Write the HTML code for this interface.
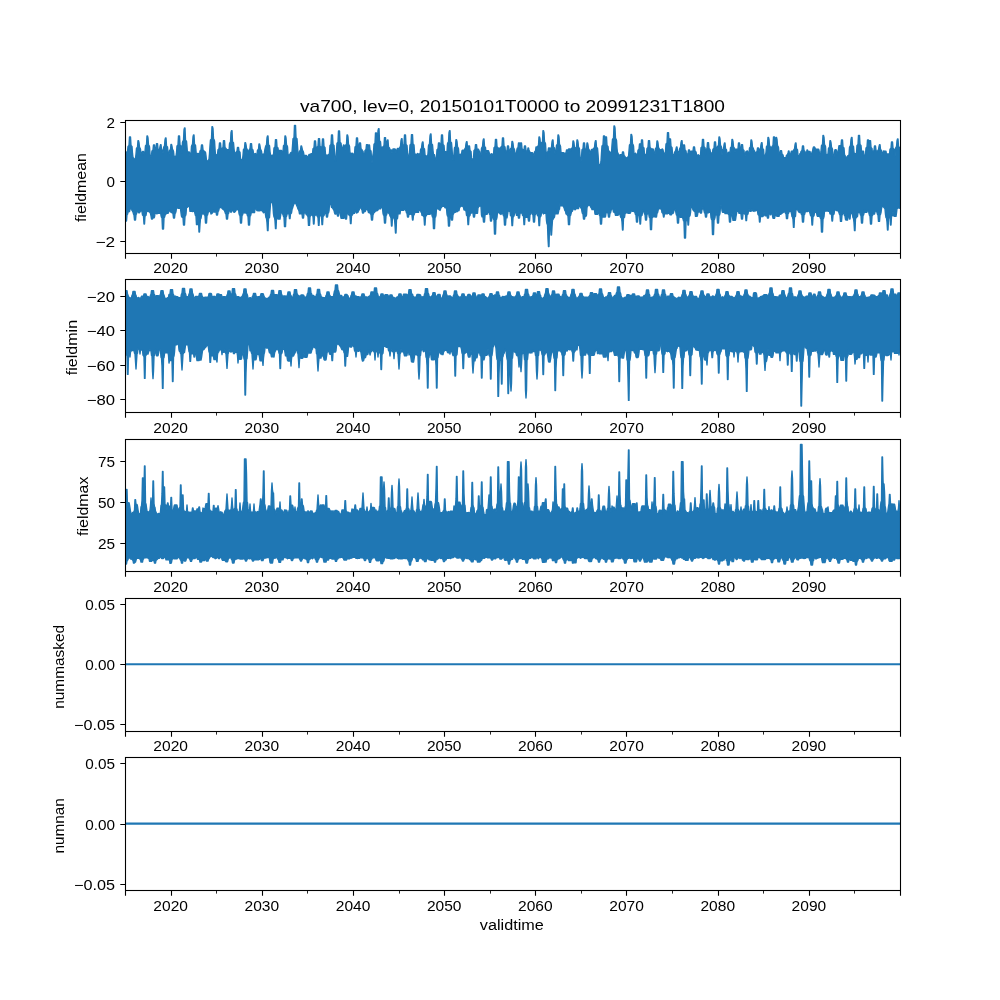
<!DOCTYPE html><html><head><meta charset="utf-8"><title>va700</title>
<style>html,body{margin:0;padding:0;background:#fff}svg{display:block;will-change:transform}text{font-family:"Liberation Sans",sans-serif;fill:#000}</style></head><body>
<svg width="1000" height="1000" viewBox="0 0 1000 1000">
<rect width="1000" height="1000" fill="#fff"/>
<text x="512.50" y="111.60" font-size="16.6" text-anchor="middle" textLength="425.0" lengthAdjust="spacingAndGlyphs">va700, lev=0, 20150101T0000 to 20991231T1800</text>
<clipPath id="c0"><rect x="125.0" y="120.00" width="775.0" height="132.76"/></clipPath>
<path clip-path="url(#c0)" d="M125.0 154.0L125.5 153.4L126.0 153.7L126.5 152.2L127.0 151.6L127.5 151.6L128.0 146.5L128.5 146.0L129.0 145.5L129.5 137.0L130.0 137.0L130.5 137.0L131.0 145.5L131.5 146.0L132.0 146.5L132.5 153.7L133.0 157.5L133.5 158.0L134.0 158.5L134.5 158.9L135.0 159.0L135.5 158.9L136.0 154.1L136.5 148.3L137.0 147.8L137.5 147.3L138.0 140.6L138.5 140.6L139.0 142.6L139.5 147.5L140.0 148.0L140.5 149.3L141.0 154.7L141.5 154.8L142.0 152.4L142.5 151.5L143.0 151.5L143.5 151.5L144.0 154.6L144.5 154.7L145.0 151.6L145.5 145.8L146.0 145.3L146.5 144.8L147.0 136.0L147.5 136.0L148.0 138.0L148.5 145.0L149.0 145.5L149.5 146.8L150.0 154.8L150.5 155.9L151.0 156.6L151.5 154.9L152.0 150.9L152.5 150.4L153.0 149.9L153.5 145.0L154.0 145.0L154.5 145.0L155.0 149.9L155.5 149.6L156.0 149.1L156.5 143.6L157.0 143.6L157.5 143.6L158.0 149.1L158.5 149.6L159.0 150.1L159.5 149.7L160.0 146.6L160.5 144.6L161.0 144.6L161.5 149.5L162.0 150.0L162.5 150.5L163.0 153.6L163.5 147.9L164.0 146.6L164.5 146.1L165.0 140.0L165.5 138.0L166.0 138.0L166.5 145.9L167.0 146.4L167.5 146.9L168.0 152.7L168.5 156.4L169.0 154.8L169.5 150.4L170.0 149.9L170.5 149.4L171.0 144.4L171.5 144.4L172.0 146.4L172.5 149.6L173.0 150.1L173.5 151.4L174.0 156.1L174.5 156.1L175.0 157.8L175.5 157.8L176.0 156.0L176.5 153.2L177.0 145.9L177.5 145.4L178.0 144.9L178.5 136.0L179.0 136.0L179.5 136.0L180.0 144.9L180.5 145.4L181.0 145.9L181.5 153.2L182.0 150.3L182.5 142.3L183.0 141.0L183.5 140.5L184.0 130.0L184.5 128.0L185.0 128.0L185.5 140.3L186.0 140.8L186.5 141.3L187.0 147.1L187.5 153.9L188.0 152.0L188.5 152.0L189.0 152.0L189.5 152.1L190.0 156.0L190.5 156.0L191.0 154.2L191.5 146.2L192.0 145.0L192.5 144.5L193.0 137.0L193.5 135.0L194.0 135.0L194.5 144.3L195.0 144.8L195.5 145.3L196.0 151.0L196.5 156.3L197.0 154.7L197.5 153.4L198.0 153.4L198.5 153.4L199.0 154.6L199.5 155.9L200.0 150.9L200.5 150.4L201.0 149.9L201.5 145.0L202.0 145.0L202.5 145.0L203.0 149.9L203.5 150.4L204.0 150.9L204.5 151.8L205.0 151.8L205.5 152.4L206.0 155.9L206.5 160.8L207.0 161.0L207.5 160.8L208.0 160.5L208.5 160.0L209.0 159.3L209.5 153.7L210.0 145.7L210.5 139.9L211.0 139.4L211.5 138.9L212.0 126.6L212.5 126.6L213.0 128.6L213.5 139.1L214.0 139.6L214.5 140.9L215.0 148.9L215.5 155.0L216.0 154.7L216.5 155.1L217.0 154.4L217.5 154.4L218.0 149.8L218.5 149.3L219.0 148.8L219.5 143.0L220.0 143.0L220.5 143.0L221.0 148.8L221.5 149.3L222.0 148.4L222.5 147.9L223.0 147.4L223.5 140.6L224.0 140.6L224.5 140.6L225.0 147.4L225.5 147.9L226.0 148.4L226.5 149.6L227.0 149.6L227.5 149.6L228.0 149.6L228.5 149.6L229.0 151.8L229.5 143.8L230.0 142.5L230.5 142.0L231.0 132.6L231.5 130.6L232.0 130.6L232.5 141.8L233.0 142.3L233.5 142.8L234.0 148.6L234.5 153.2L235.0 153.2L235.5 153.2L236.0 152.2L236.5 151.7L237.0 151.2L237.5 147.4L238.0 147.4L238.5 147.4L239.0 151.2L239.5 151.7L240.0 152.2L240.5 158.8L241.0 159.3L241.5 159.8L242.0 160.0L242.5 159.9L243.0 155.2L243.5 149.4L244.0 148.9L244.5 148.4L245.0 142.6L245.5 142.6L246.0 144.6L246.5 148.6L247.0 149.1L247.5 150.4L248.0 153.8L248.5 153.9L249.0 150.1L249.5 149.6L250.0 148.5L250.5 143.6L251.0 143.6L251.5 143.6L252.0 149.1L252.5 149.6L253.0 150.1L253.5 153.3L254.0 153.7L254.5 154.0L255.0 153.9L255.5 153.4L256.0 154.7L256.5 154.7L257.0 154.4L257.5 150.2L258.0 149.7L258.5 149.2L259.0 144.0L259.5 144.0L260.0 146.0L260.5 149.4L261.0 149.9L261.5 151.2L262.0 155.7L262.5 154.6L263.0 154.2L263.5 154.1L264.0 154.6L264.5 152.2L265.0 148.9L265.5 146.8L266.0 145.5L266.5 145.0L267.0 138.0L267.5 136.0L268.0 136.0L268.5 144.8L269.0 145.3L269.5 145.8L270.0 151.6L270.5 155.1L271.0 155.1L271.5 155.7L272.0 155.1L272.5 155.1L273.0 156.0L273.5 155.1L274.0 147.9L274.5 147.4L275.0 146.9L275.5 139.6L276.0 139.6L276.5 139.6L277.0 146.9L277.5 147.4L278.0 147.9L278.5 153.9L279.0 150.5L279.5 150.5L280.0 150.5L280.5 150.5L281.0 150.5L281.5 150.5L282.0 152.5L282.5 153.7L283.0 151.6L283.5 145.8L284.0 145.3L284.5 144.8L285.0 136.0L285.5 136.0L286.0 138.0L286.5 145.0L287.0 145.5L287.5 146.8L288.0 154.3L288.5 155.0L289.0 155.0L289.5 155.0L290.0 154.0L290.5 153.1L291.0 152.4L291.5 152.4L292.0 152.4L292.5 146.1L293.0 138.8L293.5 138.3L294.0 137.8L294.5 125.4L295.0 125.4L295.5 125.4L296.0 137.8L296.5 138.3L297.0 138.8L297.5 146.1L298.0 154.1L298.5 155.8L299.0 155.6L299.5 151.3L300.0 150.8L300.5 150.3L301.0 146.0L301.5 146.0L302.0 148.0L302.5 150.5L303.0 151.0L303.5 152.3L304.0 155.4L304.5 155.4L305.0 155.4L305.5 155.4L306.0 155.5L306.5 155.5L307.0 156.7L307.5 156.6L308.0 156.4L308.5 156.2L309.0 154.4L309.5 154.4L310.0 154.4L310.5 154.4L311.0 153.7L311.5 153.7L312.0 153.7L312.5 153.7L313.0 148.7L313.5 148.2L314.0 147.7L314.5 141.0L315.0 141.0L315.5 141.0L316.0 147.7L316.5 148.2L317.0 147.3L317.5 146.8L318.0 146.3L318.5 138.6L319.0 138.6L319.5 138.6L320.0 146.3L320.5 146.8L321.0 147.3L321.5 147.1L322.0 146.6L322.5 139.0L323.0 139.0L323.5 139.0L324.0 146.6L324.5 147.1L325.0 147.6L325.5 154.5L326.0 154.8L326.5 155.4L327.0 155.1L327.5 155.5L328.0 155.0L328.5 154.7L329.0 155.0L329.5 152.6L330.0 145.4L330.5 144.9L331.0 144.4L331.5 135.0L332.0 135.0L332.5 135.0L333.0 144.4L333.5 144.9L334.0 145.4L334.5 152.6L335.0 160.6L335.5 161.0L336.0 158.4L336.5 150.4L337.0 143.2L337.5 142.7L338.0 142.2L338.5 131.0L339.0 131.0L339.5 131.0L340.0 142.2L340.5 142.7L341.0 143.2L341.5 147.7L342.0 147.7L342.5 147.7L343.0 147.0L343.5 145.0L344.0 145.0L344.5 149.8L345.0 150.3L345.5 145.3L346.0 144.8L346.5 144.3L347.0 135.0L347.5 135.0L348.0 137.0L348.5 144.5L349.0 145.0L349.5 146.2L350.0 153.3L350.5 153.3L351.0 153.3L351.5 153.7L352.0 153.4L352.5 153.3L353.0 153.6L353.5 155.4L354.0 155.6L354.5 154.3L355.0 147.0L355.5 146.5L356.0 146.0L356.5 138.0L357.0 138.0L357.5 138.0L358.0 146.0L358.5 146.5L359.0 147.0L359.5 143.0L360.0 143.0L360.5 143.0L361.0 148.8L361.5 149.3L362.0 149.8L362.5 151.2L363.0 151.2L363.5 155.2L364.0 154.6L364.5 155.7L365.0 150.6L365.5 150.1L366.0 149.6L366.5 144.6L367.0 144.6L367.5 144.6L368.0 149.6L368.5 145.0L369.0 145.0L369.5 145.0L370.0 149.9L370.5 150.4L371.0 150.9L371.5 158.1L372.0 163.0L372.5 158.0L373.0 154.5L373.5 151.5L374.0 144.3L374.5 143.8L375.0 143.3L375.5 133.0L376.0 133.0L376.5 133.0L377.0 141.4L377.5 140.9L378.0 130.6L378.5 128.6L379.0 128.6L379.5 140.7L380.0 141.2L380.5 141.7L381.0 147.5L381.5 147.2L382.0 147.2L382.5 147.2L383.0 146.8L383.5 146.3L384.0 145.8L384.5 137.6L385.0 137.6L385.5 137.6L386.0 145.8L386.5 146.3L387.0 142.0L387.5 140.0L388.0 140.0L388.5 147.0L389.0 147.5L389.5 148.0L390.0 149.9L390.5 149.9L391.0 149.9L391.5 149.9L392.0 153.2L392.5 151.6L393.0 149.0L393.5 149.0L394.0 149.0L394.5 149.0L395.0 149.0L395.5 149.6L396.0 153.1L396.5 152.9L397.0 149.5L397.5 148.4L398.0 148.4L398.5 148.4L399.0 148.4L399.5 148.2L400.0 146.9L400.5 146.4L401.0 140.6L401.5 138.6L402.0 138.6L402.5 146.2L403.0 145.4L403.5 144.9L404.0 144.4L404.5 135.0L405.0 135.0L405.5 135.0L406.0 144.4L406.5 144.9L407.0 145.4L407.5 152.6L408.0 157.0L408.5 156.7L409.0 156.5L409.5 152.4L410.0 145.1L410.5 144.6L411.0 144.1L411.5 134.6L412.0 134.6L412.5 134.6L413.0 144.1L413.5 144.6L414.0 145.1L414.5 152.4L415.0 154.0L415.5 155.5L416.0 154.5L416.5 154.3L417.0 155.1L417.5 153.5L418.0 154.0L418.5 154.0L419.0 154.0L419.5 154.0L420.0 156.6L420.5 150.1L421.0 148.8L421.5 148.3L422.0 144.0L422.5 142.0L423.0 142.0L423.5 148.1L424.0 148.6L424.5 149.1L425.0 154.9L425.5 155.9L426.0 155.9L426.5 155.9L427.0 155.9L427.5 157.2L428.0 153.5L428.5 145.7L429.0 144.4L429.5 143.9L430.0 136.0L430.5 134.0L431.0 134.0L431.5 143.7L432.0 144.2L432.5 144.7L433.0 150.5L433.5 154.8L434.0 154.8L434.5 154.8L435.0 157.8L435.5 160.6L436.0 159.9L436.5 157.0L437.0 149.8L437.5 149.3L438.0 148.8L438.5 143.0L439.0 143.0L439.5 143.0L440.0 145.4L440.5 144.9L441.0 144.4L441.5 135.0L442.0 135.0L442.5 135.0L443.0 144.4L443.5 144.9L444.0 145.4L444.5 151.8L445.0 151.8L445.5 151.8L446.0 151.8L446.5 153.6L447.0 151.8L447.5 143.8L448.0 142.5L448.5 142.0L449.0 132.6L449.5 130.6L450.0 130.6L450.5 141.8L451.0 142.3L451.5 142.8L452.0 148.6L452.5 156.6L453.0 160.0L453.5 159.9L454.0 153.5L454.5 147.8L455.0 147.3L455.5 146.8L456.0 139.6L456.5 139.6L457.0 141.6L457.5 147.0L458.0 147.5L458.5 148.7L459.0 155.2L459.5 155.2L460.0 154.5L460.5 154.3L461.0 154.3L461.5 154.3L462.0 150.8L462.5 150.2L463.0 150.2L463.5 150.2L464.0 150.2L464.5 149.8L465.0 148.6L465.5 148.1L466.0 143.6L466.5 141.6L467.0 141.6L467.5 147.9L468.0 148.4L468.5 146.0L469.0 146.0L469.5 146.0L470.0 150.4L470.5 150.9L471.0 151.4L471.5 157.9L472.0 160.0L472.5 159.1L473.0 159.1L473.5 157.9L474.0 150.6L474.5 150.1L475.0 149.6L475.5 144.6L476.0 144.6L476.5 144.6L477.0 149.3L477.5 149.3L478.0 149.3L478.5 149.3L479.0 150.7L479.5 151.2L480.0 154.7L480.5 155.9L481.0 155.2L481.5 148.4L482.0 147.2L482.5 146.7L483.0 141.0L483.5 139.0L484.0 139.0L484.5 146.5L485.0 147.0L485.5 147.5L486.0 153.2L486.5 150.7L487.0 150.7L487.5 150.7L488.0 150.7L488.5 150.7L489.0 152.2L489.5 153.8L490.0 154.8L490.5 154.4L491.0 154.2L491.5 153.8L492.0 154.4L492.5 154.2L493.0 155.2L493.5 155.0L494.0 147.8L494.5 147.3L495.0 146.8L495.5 139.4L496.0 139.4L496.5 139.4L497.0 146.8L497.5 147.3L498.0 147.8L498.5 148.1L499.0 148.1L499.5 148.1L500.0 148.1L500.5 148.1L501.0 147.0L501.5 146.5L502.0 146.0L502.5 138.0L503.0 138.0L503.5 138.0L504.0 146.0L504.5 146.5L505.0 147.0L505.5 152.6L506.0 151.4L506.5 150.9L507.0 150.4L507.5 146.0L508.0 146.0L508.5 146.0L509.0 150.4L509.5 150.9L510.0 151.4L510.5 148.8L511.0 148.3L511.5 147.8L512.0 141.4L512.5 141.4L513.0 143.4L513.5 148.0L514.0 148.5L514.5 149.7L515.0 153.3L515.5 153.3L516.0 153.3L516.5 152.5L517.0 149.0L517.5 147.9L518.0 147.9L518.5 143.0L519.0 143.0L519.5 143.0L520.0 148.8L520.5 143.0L521.0 143.0L521.5 143.0L522.0 148.8L522.5 149.3L523.0 149.8L523.5 150.9L524.0 150.4L524.5 146.0L525.0 146.0L525.5 146.0L526.0 150.4L526.5 150.9L527.0 151.4L527.5 151.4L528.0 148.0L528.5 148.0L529.0 150.0L529.5 151.6L530.0 152.1L530.5 152.8L531.0 152.8L531.5 152.8L532.0 152.8L532.5 152.8L533.0 154.1L533.5 154.4L534.0 156.0L534.5 151.9L535.0 151.4L535.5 150.9L536.0 147.0L536.5 147.0L537.0 149.0L537.5 146.4L538.0 145.9L538.5 145.4L539.0 137.0L539.5 137.0L540.0 139.0L540.5 145.6L541.0 146.1L541.5 142.8L542.0 142.3L542.5 141.8L543.0 130.6L543.5 130.6L544.0 132.6L544.5 142.0L545.0 142.5L545.5 143.8L546.0 151.8L546.5 158.5L547.0 152.5L547.5 152.0L548.0 151.5L548.5 148.0L549.0 148.0L549.5 148.0L550.0 151.5L550.5 149.0L551.0 147.7L551.5 147.2L552.0 142.0L552.5 140.0L553.0 140.0L553.5 147.0L554.0 147.5L554.5 148.0L555.0 153.8L555.5 153.1L556.0 151.0L556.5 145.3L557.0 144.8L557.5 144.3L558.0 135.0L558.5 135.0L559.0 137.0L559.5 144.5L560.0 145.0L560.5 146.2L561.0 152.6L561.5 152.6L562.0 152.6L562.5 152.6L563.0 152.6L563.5 152.6L564.0 153.3L564.5 153.3L565.0 153.3L565.5 153.2L566.0 153.2L566.5 150.0L567.0 150.0L567.5 150.0L568.0 152.7L568.5 149.2L569.0 148.9L569.5 148.9L570.0 148.9L570.5 148.9L571.0 150.5L571.5 148.6L572.0 148.1L572.5 147.6L573.0 141.0L573.5 141.0L574.0 143.0L574.5 147.8L575.0 148.3L575.5 148.0L576.0 147.5L576.5 147.0L577.0 140.0L577.5 140.0L578.0 142.0L578.5 147.2L579.0 147.7L579.5 149.0L580.0 157.0L580.5 161.8L581.0 161.3L581.5 157.0L582.0 149.8L582.5 149.3L583.0 148.8L583.5 143.0L584.0 143.0L584.5 143.0L585.0 148.8L585.5 149.3L586.0 149.2L586.5 148.7L587.0 143.0L587.5 143.0L588.0 145.0L588.5 148.9L589.0 149.4L589.5 150.6L590.0 154.0L590.5 153.9L591.0 151.0L591.5 149.5L592.0 149.5L592.5 149.5L593.0 149.5L593.5 148.4L594.0 148.0L594.5 147.5L595.0 142.6L595.5 140.6L596.0 140.6L596.5 147.3L597.0 147.8L597.5 148.3L598.0 154.1L598.5 162.1L599.0 164.8L599.5 164.8L600.0 164.8L600.5 164.9L601.0 161.2L601.5 153.2L602.0 145.9L602.5 145.4L603.0 144.9L603.5 136.0L604.0 136.0L604.5 136.0L605.0 144.9L605.5 137.0L606.0 137.0L606.5 137.0L607.0 145.5L607.5 146.0L608.0 146.5L608.5 151.3L609.0 151.3L609.5 151.3L610.0 152.1L610.5 153.0L611.0 154.2L611.5 153.1L612.0 145.1L612.5 139.3L613.0 138.8L613.5 138.3L614.0 126.0L614.5 126.0L615.0 128.0L615.5 138.6L616.0 139.1L616.5 140.3L617.0 148.3L617.5 153.0L618.0 153.0L618.5 155.7L619.0 157.7L619.5 155.3L620.0 154.7L620.5 154.7L621.0 154.7L621.5 154.7L622.0 155.4L622.5 152.0L623.0 152.0L623.5 152.0L624.0 155.4L624.5 155.9L625.0 156.4L625.5 157.9L626.0 158.0L626.5 157.9L627.0 157.7L627.5 157.2L628.0 156.8L628.5 156.9L629.0 150.7L629.5 144.9L630.0 144.4L630.5 143.9L631.0 134.4L631.5 134.4L632.0 136.4L632.5 144.1L633.0 144.6L633.5 145.9L634.0 153.9L634.5 154.1L635.0 154.0L635.5 153.2L636.0 153.8L636.5 154.9L637.0 154.7L637.5 155.2L638.0 150.3L638.5 149.8L639.0 149.3L639.5 144.0L640.0 144.0L640.5 144.0L641.0 147.1L641.5 140.0L642.0 140.0L642.5 140.0L643.0 147.1L643.5 147.6L644.0 148.1L644.5 154.5L645.0 154.5L645.5 154.5L646.0 154.6L646.5 154.7L647.0 148.4L647.5 147.9L648.0 147.4L648.5 140.6L649.0 140.6L649.5 140.6L650.0 147.4L650.5 147.9L651.0 148.4L651.5 148.9L652.0 148.9L652.5 148.9L653.0 148.9L653.5 149.7L654.0 152.8L654.5 152.8L655.0 154.3L655.5 148.6L656.0 148.1L656.5 147.6L657.0 141.0L657.5 141.0L658.0 143.0L658.5 147.8L659.0 148.3L659.5 149.5L660.0 150.1L660.5 149.8L661.0 149.8L661.5 149.8L662.0 149.0L662.5 149.0L663.0 149.8L663.5 152.5L664.0 153.1L664.5 154.2L665.0 154.2L665.5 151.3L666.0 144.0L666.5 143.5L667.0 143.0L667.5 132.6L668.0 132.6L668.5 132.6L669.0 143.0L669.5 139.0L670.0 139.0L670.5 139.0L671.0 146.6L671.5 147.1L672.0 147.6L672.5 153.4L673.0 154.8L673.5 155.3L674.0 155.7L674.5 152.8L675.0 151.6L675.5 151.1L676.0 149.0L676.5 147.0L677.0 147.0L677.5 150.9L678.0 151.4L678.5 151.9L679.0 154.6L679.5 149.3L680.0 148.0L680.5 147.5L681.0 142.6L681.5 140.6L682.0 140.6L682.5 147.3L683.0 147.8L683.5 145.0L684.0 145.0L684.5 145.0L685.0 149.9L685.5 150.4L686.0 150.9L686.5 155.1L687.0 154.4L687.5 153.9L688.0 153.4L688.5 150.0L689.0 150.0L689.5 150.0L690.0 153.4L690.5 153.7L691.0 151.1L691.5 151.1L692.0 151.1L692.5 151.1L693.0 151.0L693.5 147.0L694.0 147.0L694.5 147.0L695.0 151.0L695.5 151.5L696.0 152.0L696.5 154.6L697.0 155.0L697.5 155.1L698.0 155.1L698.5 154.8L699.0 155.6L699.5 155.9L700.0 156.5L700.5 155.0L701.0 147.8L701.5 147.3L702.0 146.8L702.5 139.4L703.0 139.4L703.5 139.4L704.0 146.8L704.5 147.3L705.0 147.8L705.5 154.7L706.0 149.5L706.5 149.0L707.0 148.5L707.5 142.6L708.0 142.6L708.5 142.6L709.0 148.5L709.5 149.0L710.0 149.5L710.5 153.0L711.0 153.0L711.5 153.0L712.0 154.0L712.5 152.1L713.0 149.2L713.5 148.7L714.0 148.2L714.5 142.0L715.0 142.0L715.5 142.0L716.0 148.2L716.5 148.7L717.0 149.2L717.5 146.4L718.0 145.9L718.5 145.4L719.0 137.0L719.5 137.0L720.0 139.0L720.5 145.6L721.0 146.1L721.5 147.3L722.0 155.3L722.5 150.6L723.0 149.4L723.5 148.9L724.0 145.0L724.5 143.0L725.0 143.0L725.5 148.7L726.0 149.2L726.5 149.7L727.0 154.4L727.5 154.7L728.0 153.2L728.5 152.2L729.0 152.2L729.5 152.2L730.0 153.4L730.5 147.7L731.0 147.2L731.5 146.7L732.0 139.4L732.5 139.4L733.0 141.4L733.5 146.9L734.0 147.4L734.5 148.6L735.0 152.3L735.5 149.3L736.0 149.3L736.5 149.3L737.0 149.3L737.5 149.3L738.0 148.8L738.5 143.0L739.0 143.0L739.5 143.0L740.0 148.8L740.5 149.3L741.0 149.6L741.5 144.6L742.0 144.6L742.5 144.6L743.0 149.6L743.5 150.1L744.0 150.6L744.5 155.6L745.0 156.2L745.5 153.5L746.0 151.5L746.5 151.5L747.0 151.0L747.5 151.0L748.0 153.0L748.5 154.6L749.0 153.8L749.5 148.0L750.0 147.5L750.5 147.0L751.0 140.0L751.5 140.0L752.0 142.0L752.5 147.2L753.0 147.7L753.5 149.0L754.0 150.6L754.5 150.9L755.0 152.8L755.5 153.9L756.0 152.5L756.5 152.0L757.0 151.5L757.5 148.0L758.0 148.0L758.5 148.0L759.0 151.5L759.5 150.4L760.0 149.1L760.5 148.6L761.0 144.6L761.5 142.6L762.0 142.6L762.5 148.4L763.0 148.9L763.5 149.4L764.0 155.2L764.5 155.2L765.0 155.2L765.5 155.2L766.0 152.3L766.5 146.6L767.0 146.1L767.5 145.6L768.0 137.4L768.5 137.4L769.0 139.4L769.5 145.8L770.0 146.3L770.5 147.5L771.0 148.9L771.5 148.9L772.0 146.5L772.5 146.0L773.0 145.5L773.5 137.0L774.0 137.0L774.5 137.0L775.0 145.5L775.5 145.6L776.0 137.4L776.5 137.4L777.0 139.4L777.5 145.8L778.0 146.3L778.5 147.5L779.0 154.0L779.5 154.0L780.0 154.0L780.5 150.6L781.0 150.6L781.5 150.6L782.0 154.0L782.5 154.5L783.0 155.0L783.5 157.4L784.0 157.9L784.5 157.7L785.0 157.7L785.5 157.7L786.0 157.7L786.5 155.1L787.0 155.1L787.5 154.6L788.0 153.0L788.5 151.0L789.0 151.0L789.5 154.3L790.0 154.7L790.5 155.1L791.0 152.5L791.5 151.1L792.0 151.1L792.5 151.1L793.0 151.1L793.5 150.6L794.0 149.4L794.5 148.9L795.0 145.0L795.5 143.0L796.0 143.0L796.5 148.7L797.0 149.2L797.5 149.7L798.0 155.4L798.5 156.0L799.0 156.0L799.5 155.0L800.0 153.6L800.5 153.9L801.0 151.4L801.5 150.9L802.0 150.4L802.5 146.0L803.0 146.0L803.5 146.0L804.0 150.4L804.5 150.9L805.0 151.4L805.5 153.7L806.0 153.8L806.5 153.3L807.0 150.0L807.5 150.0L808.0 151.5L808.5 151.5L809.0 151.5L809.5 151.5L810.0 151.5L810.5 153.9L811.0 155.7L811.5 155.2L812.0 152.0L812.5 151.5L813.0 148.4L813.5 147.0L814.0 147.0L814.5 147.0L815.0 147.8L815.5 150.4L816.0 149.1L816.5 149.1L817.0 149.1L817.5 149.1L818.0 149.1L818.5 149.1L819.0 150.3L819.5 153.5L820.0 155.8L820.5 155.4L821.0 151.2L821.5 145.5L822.0 145.0L822.5 144.5L823.0 135.4L823.5 135.4L824.0 137.4L824.5 144.7L825.0 145.2L825.5 146.4L826.0 154.4L826.5 154.6L827.0 154.9L827.5 154.2L828.0 154.1L828.5 148.3L829.0 147.8L829.5 147.3L830.0 140.6L830.5 140.6L831.0 142.6L831.5 147.5L832.0 148.0L832.5 149.3L833.0 156.5L833.5 157.3L834.0 156.9L834.5 151.9L835.0 149.6L835.5 149.6L836.0 149.6L836.5 150.4L837.0 153.9L837.5 154.6L838.0 152.3L838.5 148.8L839.0 145.6L839.5 145.6L840.0 145.6L840.5 145.6L841.0 145.6L841.5 140.0L842.0 140.0L842.5 140.0L843.0 147.1L843.5 147.6L844.0 148.1L844.5 155.1L845.0 155.1L845.5 157.9L846.0 157.7L846.5 157.2L847.0 156.8L847.5 156.4L848.0 155.6L848.5 155.3L849.0 155.0L849.5 147.5L850.0 146.3L850.5 145.8L851.0 139.4L851.5 137.4L852.0 137.4L852.5 145.6L853.0 146.1L853.5 146.6L854.0 152.3L854.5 154.4L855.0 153.5L855.5 154.2L856.0 154.1L856.5 152.8L857.0 145.6L857.5 145.1L858.0 144.6L858.5 135.4L859.0 135.4L859.5 135.4L860.0 144.6L860.5 145.1L861.0 145.6L861.5 151.1L862.0 151.1L862.5 151.1L863.0 151.1L863.5 151.1L864.0 155.4L864.5 155.4L865.0 155.2L865.5 154.6L866.0 148.1L866.5 147.6L867.0 147.1L867.5 140.0L868.0 140.0L868.5 140.0L869.0 147.1L869.5 140.6L870.0 140.6L870.5 140.6L871.0 147.4L871.5 147.9L872.0 148.4L872.5 154.6L873.0 151.4L873.5 150.9L874.0 150.4L874.5 146.0L875.0 146.0L875.5 146.0L876.0 150.4L876.5 150.9L877.0 151.4L877.5 151.5L878.0 150.2L878.5 149.7L879.0 146.6L879.5 144.6L880.0 144.6L880.5 149.5L881.0 150.0L881.5 150.5L882.0 154.9L882.5 154.6L883.0 153.0L883.5 151.0L884.0 151.0L884.5 151.3L885.0 151.3L885.5 151.3L886.0 151.3L886.5 154.8L887.0 153.9L887.5 153.9L888.0 153.9L888.5 153.9L889.0 153.9L889.5 154.5L890.0 149.2L890.5 148.7L891.0 148.2L891.5 142.0L892.0 142.0L892.5 142.0L893.0 148.2L893.5 148.7L894.0 149.2L894.5 156.5L895.0 156.4L895.5 148.4L896.0 147.2L896.5 146.7L897.0 141.0L897.5 139.0L898.0 139.0L898.5 146.5L899.0 147.0L899.5 147.5L900.0 149.0L900.0 208.4L899.5 208.2L899.0 207.6L898.5 207.2L898.0 208.3L897.5 208.3L897.0 208.3L896.5 212.9L896.0 216.3L895.5 216.3L895.0 216.3L894.5 216.3L894.0 216.3L893.5 214.9L893.0 211.6L892.5 215.4L892.0 215.9L891.5 216.4L891.0 225.0L890.5 225.0L890.0 217.0L889.5 217.3L889.0 217.8L888.5 218.3L888.0 230.0L887.5 230.0L887.0 222.0L886.5 218.1L886.0 217.6L885.5 214.5L885.0 209.0L884.5 208.0L884.0 207.6L883.5 207.1L883.0 206.5L882.5 206.1L882.0 206.0L881.5 208.5L881.0 212.6L880.5 214.4L880.0 214.9L879.5 221.4L879.0 221.4L878.5 221.4L878.0 214.9L877.5 214.4L877.0 212.6L876.5 211.0L876.0 210.9L875.5 210.9L875.0 212.0L874.5 214.0L874.0 214.0L873.5 214.0L873.0 214.0L872.5 215.4L872.0 215.9L871.5 224.0L871.0 224.0L870.5 224.0L870.0 215.9L869.5 215.4L869.0 213.6L868.5 210.1L868.0 209.9L867.5 210.2L867.0 212.2L866.5 212.2L866.0 212.2L865.5 212.2L865.0 212.2L864.5 209.9L864.0 213.2L863.5 215.0L863.0 215.5L862.5 223.0L862.0 223.0L861.5 223.0L861.0 215.5L860.5 215.0L860.0 213.2L859.5 212.5L859.0 212.5L858.5 212.5L858.0 212.5L857.5 216.5L857.0 216.6L856.5 217.5L856.0 218.0L855.5 218.5L855.0 230.6L854.5 230.6L854.0 222.6L853.5 218.3L853.0 217.8L852.5 214.7L852.0 213.2L851.5 213.1L851.0 213.6L850.5 214.1L850.0 219.0L849.5 219.0L849.0 214.4L848.5 213.9L848.0 216.6L847.5 220.1L847.0 220.1L846.5 220.1L846.0 220.1L845.5 219.4L845.0 215.9L844.5 215.7L844.0 213.2L843.5 213.1L843.0 212.6L842.5 214.4L842.0 214.9L841.5 221.4L841.0 221.4L840.5 221.4L840.0 214.9L839.5 214.4L839.0 212.9L838.5 210.7L838.0 210.8L837.5 210.8L837.0 210.8L836.5 210.3L836.0 210.0L835.5 210.0L835.0 210.0L834.5 211.0L834.0 214.1L833.5 214.6L833.0 215.1L832.5 221.0L832.0 221.0L831.5 214.8L831.0 214.3L830.5 213.9L830.0 213.9L829.5 211.7L829.0 211.3L828.5 211.2L828.0 211.1L827.5 211.0L827.0 211.0L826.5 211.0L826.0 211.0L825.5 211.1L825.0 211.2L824.5 210.9L824.0 216.6L823.5 218.4L823.0 218.9L822.5 232.0L822.0 232.0L821.5 232.0L821.0 218.9L820.5 218.4L820.0 216.6L819.5 216.6L819.0 216.3L818.5 216.3L818.0 216.3L817.5 216.3L817.0 215.5L816.5 212.0L816.0 212.2L815.5 211.7L815.0 212.6L814.5 212.6L814.0 215.7L813.5 216.2L813.0 217.0L812.5 225.0L812.0 225.0L811.5 216.4L811.0 215.9L810.5 215.4L810.0 213.4L809.5 211.8L809.0 211.3L808.5 211.0L808.0 211.0L807.5 211.6L807.0 211.6L806.5 211.6L806.0 211.6L805.5 211.0L805.0 212.8L804.5 214.6L804.0 215.1L803.5 222.0L803.0 222.0L802.5 222.0L802.0 215.1L801.5 214.6L801.0 212.8L800.5 211.9L800.0 212.7L799.5 212.4L799.0 212.1L798.5 211.7L798.0 210.3L797.5 209.9L797.0 209.4L796.5 209.1L796.0 209.3L795.5 216.3L795.0 216.8L794.5 217.3L794.0 227.4L793.5 227.4L793.0 219.4L792.5 217.1L792.0 216.6L791.5 213.5L791.0 211.6L790.5 211.1L790.0 211.3L789.5 211.5L789.0 211.5L788.5 213.3L788.0 213.8L787.5 218.6L787.0 218.6L786.5 218.6L786.0 213.8L785.5 213.3L785.0 211.7L784.5 211.6L784.0 212.0L783.5 212.2L783.0 212.2L782.5 213.1L782.0 211.9L781.5 212.8L781.0 214.4L780.5 214.4L780.0 214.4L779.5 214.4L779.0 216.2L778.5 216.2L778.0 216.2L777.5 216.2L777.0 216.2L776.5 216.0L776.0 211.6L775.5 212.8L775.0 216.3L774.5 218.2L774.0 218.2L773.5 218.2L773.0 218.2L772.5 215.8L772.0 212.9L771.5 213.1L771.0 214.1L770.5 214.7L770.0 213.4L769.5 213.1L769.0 213.6L768.5 218.0L768.0 218.0L767.5 218.0L767.0 215.8L766.5 215.8L766.0 215.8L765.5 215.8L765.0 215.8L764.5 214.6L764.0 212.1L763.5 215.1L763.0 216.5L762.5 216.5L762.0 216.5L761.5 216.5L761.0 216.5L760.5 216.5L760.0 222.0L759.5 222.0L759.0 215.5L758.5 215.0L758.0 214.5L757.5 211.4L757.0 210.0L756.5 210.1L756.0 210.2L755.5 211.0L755.0 210.0L754.5 210.3L754.0 211.4L753.5 209.6L753.0 211.0L752.5 210.4L752.0 209.3L751.5 210.5L751.0 211.4L750.5 211.4L750.0 211.4L749.5 210.6L749.0 209.0L748.5 210.9L748.0 214.0L747.5 214.5L747.0 215.0L746.5 220.6L746.0 220.6L745.5 214.7L745.0 214.2L744.5 213.7L744.0 212.5L743.5 213.5L743.0 214.0L742.5 219.0L742.0 219.0L741.5 219.0L741.0 214.0L740.5 213.5L740.0 213.3L739.5 213.3L739.0 213.3L738.5 211.4L738.0 211.4L737.5 211.4L737.0 211.0L736.5 213.6L736.0 216.4L735.5 219.9L735.0 220.4L734.5 220.4L734.0 220.4L733.5 220.4L733.0 220.4L732.5 217.1L732.0 213.6L731.5 214.6L731.0 215.1L730.5 222.0L730.0 222.0L729.5 222.0L729.0 215.1L728.5 214.6L728.0 212.8L727.5 213.6L727.0 213.6L726.5 213.6L726.0 213.6L725.5 213.6L725.0 213.6L724.5 211.3L724.0 212.2L723.5 212.2L723.0 212.2L722.5 212.2L722.0 210.6L721.5 205.6L721.0 205.6L720.5 206.2L720.0 213.2L719.5 215.0L719.0 215.5L718.5 223.0L718.0 223.0L717.5 223.0L717.0 215.5L716.5 215.0L716.0 213.2L715.5 212.7L715.0 217.6L714.5 219.4L714.0 219.9L713.5 234.6L713.0 234.6L712.5 234.6L712.0 219.9L711.5 219.4L711.0 217.6L710.5 211.2L710.0 211.7L709.5 212.2L709.0 211.7L708.5 212.9L708.0 212.9L707.5 212.9L707.0 213.2L706.5 217.0L706.0 217.0L705.5 217.0L705.0 213.2L704.5 212.7L704.0 210.9L703.5 207.3L703.0 207.2L702.5 209.0L702.0 209.5L701.5 213.0L701.0 213.0L700.5 213.0L700.0 210.8L699.5 211.5L699.0 212.0L698.5 212.0L698.0 212.0L697.5 215.2L697.0 216.4L696.5 216.4L696.0 216.4L695.5 216.4L695.0 211.6L694.5 211.5L694.0 210.3L693.5 210.8L693.0 209.8L692.5 208.4L692.0 206.5L691.5 204.2L691.0 205.6L690.5 212.6L690.0 215.7L689.5 216.2L689.0 217.0L688.5 225.0L688.0 225.0L687.5 216.4L687.0 218.9L686.5 220.7L686.0 221.2L685.5 238.0L685.0 238.0L684.5 238.0L684.0 221.2L683.5 220.7L683.0 218.9L682.5 217.2L682.0 217.2L681.5 217.2L681.0 217.2L680.5 217.2L680.0 217.1L679.5 215.0L679.0 215.5L678.5 223.0L678.0 223.0L677.5 223.0L677.0 215.5L676.5 215.0L676.0 213.2L675.5 210.1L675.0 209.3L674.5 209.6L674.0 210.3L673.5 212.5L673.0 213.4L672.5 213.1L672.0 213.3L671.5 214.9L671.0 214.9L670.5 214.9L670.0 214.9L669.5 213.3L669.0 213.3L668.5 213.3L668.0 213.3L667.5 213.9L667.0 213.9L666.5 213.9L666.0 213.9L665.5 213.9L665.0 213.9L664.5 213.3L664.0 217.0L663.5 217.0L663.0 213.6L662.5 213.1L662.0 212.6L661.5 209.6L661.0 209.1L660.5 208.9L660.0 208.8L659.5 208.7L659.0 208.3L658.5 208.1L658.0 210.9L657.5 212.7L657.0 213.2L656.5 217.0L656.0 217.0L655.5 217.0L655.0 216.9L654.5 216.9L654.0 216.9L653.5 215.6L653.0 215.7L652.5 217.5L652.0 218.0L651.5 229.6L651.0 229.6L650.5 229.6L650.0 218.0L649.5 217.5L649.0 215.7L648.5 211.2L648.0 212.1L647.5 213.9L647.0 214.4L646.5 220.0L646.0 220.0L645.5 220.0L645.0 214.4L644.5 213.9L644.0 212.1L643.5 209.7L643.0 210.5L642.5 212.2L642.0 215.3L641.5 215.8L641.0 216.3L640.5 224.0L640.0 224.0L639.5 216.0L639.0 215.5L638.5 215.0L638.0 215.1L637.5 222.0L637.0 222.0L636.5 222.0L636.0 215.1L635.5 214.6L635.0 212.8L634.5 211.7L634.0 211.6L633.5 211.4L633.0 211.4L632.5 211.4L632.0 211.0L631.5 211.0L631.0 210.9L630.5 212.7L630.0 213.4L629.5 213.4L629.0 213.4L628.5 213.4L628.0 213.3L627.5 211.1L627.0 212.9L626.5 212.9L626.0 212.9L625.5 213.3L625.0 213.8L624.5 217.3L624.0 217.8L623.5 218.3L623.0 230.0L622.5 230.0L622.0 222.0L621.5 218.1L621.0 217.6L620.5 216.6L620.0 214.5L619.5 214.0L619.0 214.0L618.5 214.5L618.0 215.3L617.5 215.3L617.0 215.3L616.5 215.3L616.0 215.3L615.5 215.3L615.0 213.2L614.5 212.0L614.0 212.0L613.5 212.0L613.0 209.3L612.5 209.1L612.0 209.0L611.5 209.1L611.0 210.9L610.5 212.7L610.0 213.2L609.5 217.0L609.0 217.0L608.5 217.0L608.0 213.2L607.5 212.7L607.0 212.4L606.5 212.3L606.0 213.2L605.5 216.7L605.0 217.1L604.5 217.1L604.0 217.1L603.5 217.1L603.0 217.1L602.5 217.1L602.0 215.9L601.5 224.0L601.0 224.0L600.5 224.0L600.0 215.9L599.5 215.4L599.0 213.6L598.5 211.9L598.0 211.1L597.5 214.4L597.0 214.4L596.5 214.4L596.0 214.4L595.5 214.4L595.0 214.2L594.5 209.7L594.0 209.1L593.5 209.5L593.0 209.5L592.5 209.5L592.0 209.5L591.5 207.7L591.0 207.7L590.5 206.3L590.0 205.7L589.5 205.2L589.0 205.0L588.5 205.2L588.0 205.6L587.5 206.4L587.0 207.3L586.5 214.9L586.0 216.3L585.5 216.3L585.0 216.3L584.5 219.0L584.0 219.0L583.5 219.0L583.0 214.0L582.5 213.5L582.0 211.7L581.5 208.3L581.0 208.3L580.5 207.1L580.0 206.5L579.5 206.2L579.0 206.0L578.5 208.6L578.0 208.6L577.5 208.6L577.0 208.6L576.5 208.6L576.0 208.5L575.5 209.5L575.0 209.8L574.5 209.0L574.0 209.0L573.5 208.7L573.0 209.2L572.5 210.9L572.0 211.4L571.5 211.7L571.0 213.8L570.5 215.6L570.0 216.1L569.5 224.6L569.0 224.6L568.5 224.6L568.0 216.1L567.5 215.6L567.0 214.2L566.5 214.2L566.0 213.9L565.5 211.0L565.0 210.9L564.5 209.3L564.0 207.6L563.5 206.7L563.0 205.8L562.5 205.8L562.0 205.8L561.5 205.8L561.0 205.8L560.5 202.2L560.0 202.9L559.5 209.3L559.0 209.3L558.5 211.8L558.0 213.9L557.5 213.9L557.0 213.9L556.5 213.9L556.0 213.9L555.5 209.5L555.0 213.5L554.5 217.0L554.0 217.9L553.5 217.9L553.0 219.5L552.5 220.0L552.0 227.0L551.5 235.0L551.0 235.0L550.5 223.6L550.0 224.1L549.5 224.6L549.0 246.6L548.5 246.6L548.0 238.6L547.5 224.4L547.0 223.9L546.5 220.8L546.0 213.8L545.5 212.9L545.0 213.4L544.5 213.1L544.0 213.2L543.5 214.0L543.0 212.8L542.5 212.8L542.0 212.8L541.5 212.8L541.0 215.9L540.5 216.4L540.0 217.6L539.5 225.6L539.0 225.6L538.5 216.6L538.0 216.1L537.5 215.6L537.0 212.8L536.5 212.5L536.0 212.8L535.5 214.6L535.0 215.1L534.5 222.0L534.0 222.0L533.5 222.0L533.0 215.1L532.5 214.6L532.0 212.8L531.5 210.6L531.0 212.4L530.5 214.2L530.0 214.7L529.5 221.0L529.0 221.0L528.5 221.0L528.0 217.2L527.5 217.2L527.0 217.2L526.5 217.2L526.0 217.2L525.5 217.2L525.0 216.6L524.5 224.6L524.0 224.6L523.5 216.2L523.0 215.7L522.5 215.2L522.0 212.6L521.5 212.6L521.0 213.1L520.5 213.1L520.0 213.6L519.5 218.0L519.0 218.0L518.5 218.0L518.0 215.4L517.5 215.4L517.0 215.4L516.5 215.4L516.0 212.3L515.5 211.4L515.0 210.9L514.5 213.9L514.0 215.9L513.5 216.4L513.0 217.6L512.5 225.6L512.0 225.6L511.5 216.6L511.0 216.1L510.5 215.6L510.0 211.3L509.5 211.2L509.0 211.2L508.5 211.0L508.0 211.4L507.5 214.9L507.0 217.8L506.5 217.8L506.0 217.8L505.5 225.0L505.0 225.0L504.5 225.0L504.0 216.3L503.5 215.8L503.0 214.0L502.5 213.8L502.0 211.7L501.5 213.7L501.0 214.4L500.5 213.9L500.0 213.9L499.5 213.0L499.0 212.9L498.5 212.5L498.0 212.6L497.5 211.9L497.0 217.4L496.5 219.2L496.0 219.7L495.5 234.0L495.0 234.0L494.5 234.0L494.0 219.7L493.5 219.2L493.0 217.4L492.5 214.2L492.0 214.7L491.5 221.0L491.0 221.0L490.5 221.0L490.0 214.7L489.5 214.2L489.0 212.4L488.5 212.0L488.0 212.0L487.5 213.0L487.0 214.4L486.5 214.4L486.0 214.4L485.5 214.6L485.0 215.1L484.5 222.0L484.0 222.0L483.5 222.0L483.0 216.8L482.5 216.8L482.0 216.8L481.5 215.1L481.0 206.5L480.5 206.1L480.0 206.0L479.5 206.1L479.0 206.6L478.5 207.1L478.0 207.8L477.5 213.2L477.0 213.2L476.5 213.2L476.0 213.2L475.5 213.2L475.0 213.2L474.5 217.0L474.0 217.0L473.5 217.0L473.0 213.2L472.5 212.7L472.0 212.6L471.5 213.0L471.0 213.2L470.5 212.4L470.0 215.5L469.5 216.0L469.0 216.6L468.5 224.6L468.0 224.6L467.5 216.2L467.0 215.7L466.5 215.2L466.0 210.7L465.5 210.6L465.0 210.2L464.5 209.9L464.0 209.9L463.5 207.3L463.0 206.6L462.5 206.2L462.0 206.0L461.5 206.1L461.0 206.3L460.5 206.6L460.0 207.1L459.5 207.9L459.0 210.6L458.5 210.6L458.0 210.6L457.5 211.6L457.0 211.4L456.5 211.4L456.0 211.9L455.5 212.2L455.0 211.7L454.5 212.6L454.0 212.1L453.5 213.9L453.0 214.4L452.5 220.0L452.0 220.0L451.5 220.0L451.0 214.4L450.5 216.1L450.0 216.6L449.5 226.0L449.0 226.0L448.5 226.0L448.0 216.6L447.5 216.1L447.0 214.3L446.5 207.9L446.0 207.9L445.5 207.9L445.0 207.9L444.5 206.3L444.0 206.3L443.5 206.3L443.0 206.3L442.5 206.3L442.0 206.3L441.5 207.6L441.0 207.5L440.5 209.2L440.0 210.4L439.5 209.0L439.0 209.6L438.5 208.9L438.0 208.9L437.5 208.9L437.0 208.9L436.5 208.3L436.0 215.3L435.5 217.1L435.0 217.6L434.5 228.6L434.0 228.6L433.5 228.6L433.0 217.6L432.5 217.1L432.0 215.3L431.5 211.3L431.0 211.4L430.5 213.5L430.0 214.4L429.5 214.4L429.0 214.4L428.5 214.4L428.0 214.4L427.5 214.4L427.0 212.1L426.5 215.4L426.0 215.9L425.5 216.4L425.0 225.0L424.5 225.0L424.0 217.0L423.5 216.2L423.0 215.7L422.5 215.3L422.0 215.3L421.5 212.5L421.0 212.1L420.5 210.6L420.0 210.4L419.5 210.2L419.0 210.1L418.5 212.4L418.0 212.4L417.5 212.4L417.0 212.4L416.5 212.4L416.0 212.4L415.5 211.2L415.0 211.6L414.5 213.5L414.0 214.9L413.5 214.9L413.0 220.0L412.5 220.0L412.0 214.9L411.5 214.7L411.0 213.8L410.5 213.1L410.0 214.4L409.5 213.7L409.0 213.9L408.5 217.0L408.0 217.0L407.5 217.0L407.0 213.2L406.5 212.7L406.0 210.9L405.5 210.1L405.0 209.7L404.5 209.1L404.0 209.6L403.5 210.3L403.0 210.3L402.5 210.3L402.0 210.4L401.5 210.4L401.0 210.4L400.5 210.4L400.0 213.8L399.5 213.8L399.0 213.8L398.5 213.8L398.0 213.8L397.5 218.4L397.0 218.9L396.5 219.4L396.0 233.0L395.5 233.0L395.0 225.0L394.5 219.2L394.0 218.7L393.5 215.7L393.0 216.2L392.5 216.7L392.0 226.0L391.5 226.0L391.0 218.0L390.5 216.5L390.0 216.0L389.5 213.7L389.0 213.7L388.5 212.6L388.0 212.6L387.5 212.6L387.0 213.2L386.5 215.0L386.0 215.5L385.5 223.0L385.0 223.0L384.5 223.0L384.0 215.5L383.5 215.0L383.0 213.2L382.5 208.2L382.0 207.7L381.5 207.1L381.0 207.0L380.5 208.8L380.0 208.8L379.5 208.8L379.0 208.8L378.5 209.0L378.0 209.8L377.5 210.5L377.0 210.6L376.5 210.3L376.0 211.1L375.5 210.6L375.0 211.7L374.5 212.2L374.0 212.1L373.5 213.9L373.0 214.4L372.5 220.0L372.0 220.0L371.5 220.0L371.0 214.4L370.5 213.9L370.0 212.7L369.5 212.9L369.0 212.1L368.5 212.5L368.0 210.7L367.5 209.7L367.0 208.8L366.5 208.8L366.0 209.7L365.5 211.0L365.0 211.6L364.5 211.6L364.0 211.6L363.5 213.0L363.0 213.0L362.5 213.0L362.0 210.0L361.5 209.0L361.0 207.2L360.5 207.2L360.0 207.8L359.5 209.0L359.0 210.1L358.5 210.8L358.0 212.2L357.5 212.2L357.0 212.9L356.5 213.0L356.0 211.8L355.5 210.9L355.0 210.2L354.5 213.4L354.0 213.4L353.5 213.4L353.0 213.4L352.5 214.8L352.0 215.3L351.5 215.8L351.0 223.6L350.5 223.6L350.0 216.1L349.5 215.6L349.0 215.1L348.5 214.1L348.0 213.3L347.5 213.5L347.0 214.0L346.5 219.0L346.0 219.0L345.5 219.0L345.0 214.0L344.5 214.6L344.0 218.1L343.5 218.4L343.0 218.4L342.5 218.4L342.0 218.4L341.5 218.4L341.0 218.1L340.5 214.6L340.0 210.2L339.5 212.0L339.0 212.5L338.5 216.0L338.0 216.0L337.5 216.0L337.0 212.5L336.5 213.6L336.0 214.0L335.5 214.0L335.0 214.0L334.5 212.5L334.0 210.1L333.5 209.8L333.0 208.6L332.5 208.0L332.0 207.3L331.5 207.3L331.0 204.9L330.5 204.3L330.0 204.0L329.5 204.2L329.0 210.9L328.5 212.7L328.0 213.2L327.5 217.0L327.0 217.0L326.5 217.0L326.0 213.6L325.5 213.6L325.0 213.6L324.5 213.6L324.0 215.5L323.5 216.0L323.0 216.6L322.5 224.6L322.0 224.6L321.5 216.2L321.0 215.7L320.5 215.5L320.0 216.0L319.5 216.5L319.0 225.4L318.5 225.4L318.0 217.4L317.5 216.8L317.0 215.8L316.5 213.5L316.0 213.5L315.5 215.0L315.0 215.5L314.5 216.0L314.0 224.0L313.5 224.0L313.0 216.3L312.5 215.8L312.0 215.3L311.5 212.2L311.0 214.1L310.5 215.9L310.0 216.4L309.5 225.4L309.0 225.4L308.5 225.4L308.0 216.4L307.5 215.9L307.0 214.1L306.5 214.8L306.0 214.1L305.5 212.3L305.0 211.3L304.5 213.1L304.0 213.6L303.5 218.0L303.0 218.0L302.5 218.0L302.0 213.6L301.5 213.1L301.0 213.8L300.5 213.8L300.0 213.8L299.5 213.8L299.0 211.0L298.5 209.5L298.0 209.0L297.5 207.3L297.0 206.3L296.5 205.0L296.0 203.9L295.5 203.2L295.0 203.0L294.5 203.2L294.0 203.9L293.5 205.1L293.0 206.5L292.5 208.3L292.0 209.6L291.5 212.9L291.0 213.4L290.5 213.9L290.0 218.6L289.5 218.6L289.0 214.2L288.5 213.7L288.0 213.2L287.5 211.5L287.0 214.6L286.5 216.4L286.0 216.9L285.5 226.6L285.0 226.6L284.5 226.6L284.0 216.9L283.5 216.4L283.0 214.6L282.5 213.5L282.0 212.4L281.5 212.8L281.0 212.7L280.5 216.2L280.0 219.1L279.5 219.1L279.0 219.1L278.5 219.1L278.0 219.1L277.5 216.7L277.0 217.4L276.5 217.7L276.0 228.6L275.5 228.6L275.0 220.6L274.5 217.5L274.0 217.0L273.5 213.9L273.0 206.9L272.5 202.2L272.0 202.0L271.5 202.2L271.0 202.7L270.5 203.8L270.0 210.5L269.5 217.5L269.0 218.0L268.5 218.5L268.0 230.6L267.5 230.6L267.0 222.6L266.5 218.3L266.0 217.8L265.5 214.7L265.0 211.5L264.5 211.9L264.0 212.4L263.5 212.8L263.0 211.9L262.5 211.2L262.0 210.6L261.5 210.6L261.0 210.6L260.5 210.6L260.0 210.5L259.5 210.9L259.0 210.9L258.5 210.9L258.0 210.9L257.5 210.6L257.0 210.5L256.5 209.8L256.0 208.4L255.5 208.0L255.0 208.8L254.5 212.6L254.0 212.6L253.5 212.6L253.0 212.6L252.5 212.6L252.0 212.6L251.5 210.1L251.0 214.0L250.5 215.8L250.0 216.3L249.5 225.0L249.0 225.0L248.5 225.0L248.0 216.3L247.5 215.8L247.0 214.0L246.5 213.1L246.0 213.1L245.5 213.1L245.0 211.9L244.5 212.9L244.0 212.6L243.5 212.6L243.0 213.2L242.5 215.0L242.0 215.5L241.5 223.0L241.0 223.0L240.5 223.0L240.0 215.5L239.5 215.0L239.0 213.2L238.5 208.7L238.0 208.7L237.5 209.7L237.0 209.7L236.5 209.7L236.0 210.1L235.5 211.2L235.0 211.7L234.5 212.2L234.0 211.7L233.5 212.0L233.0 210.5L232.5 210.4L232.0 210.6L231.5 211.2L231.0 212.4L230.5 211.0L230.0 210.4L229.5 209.8L229.0 211.7L228.5 213.5L228.0 214.0L227.5 219.0L227.0 219.0L226.5 219.0L226.0 214.0L225.5 213.5L225.0 212.0L224.5 210.7L224.0 210.0L223.5 209.7L223.0 209.3L222.5 208.9L222.0 208.2L221.5 207.8L221.0 207.5L220.5 207.5L220.0 207.5L219.5 207.1L219.0 209.2L218.5 211.0L218.0 211.5L217.5 215.0L217.0 215.0L216.5 215.0L216.0 211.5L215.5 212.1L215.0 212.1L214.5 212.1L214.0 212.1L213.5 211.2L213.0 210.4L212.5 212.7L212.0 213.5L211.5 213.4L211.0 213.9L210.5 212.0L210.0 211.4L209.5 211.0L209.0 211.7L208.5 211.2L208.0 213.2L207.5 215.0L207.0 215.5L206.5 223.0L206.0 223.0L205.5 223.0L205.0 215.5L204.5 215.0L204.0 214.2L203.5 213.7L203.0 213.9L202.5 213.9L202.0 214.1L201.5 215.2L201.0 218.3L200.5 218.8L200.0 224.0L199.5 232.0L199.0 232.0L198.5 219.0L198.0 218.5L197.5 224.6L197.0 224.6L196.5 224.6L196.0 216.1L195.5 215.6L195.0 213.8L194.5 211.1L194.0 211.1L193.5 211.1L193.0 211.5L192.5 211.6L192.0 211.4L191.5 211.4L191.0 211.4L190.5 211.4L190.0 211.4L189.5 207.0L189.0 206.5L188.5 206.1L188.0 206.0L187.5 207.3L187.0 207.3L186.5 207.3L186.0 214.0L185.5 215.8L185.0 216.3L184.5 225.0L184.0 225.0L183.5 225.0L183.0 217.3L182.5 217.3L182.0 217.3L181.5 216.3L181.0 212.8L180.5 208.4L180.0 208.4L179.5 208.4L179.0 208.4L178.5 208.4L178.0 208.4L177.5 207.3L177.0 207.3L176.5 207.3L176.0 211.3L175.5 213.1L175.0 213.6L174.5 218.0L174.0 218.0L173.5 218.0L173.0 213.6L172.5 213.1L172.0 212.0L171.5 212.6L171.0 210.9L170.5 211.9L170.0 210.9L169.5 210.2L169.0 210.6L168.5 212.4L168.0 213.3L167.5 213.3L167.0 213.3L166.5 213.8L166.0 213.8L165.5 213.8L165.0 215.5L164.5 217.3L164.0 217.8L163.5 229.0L163.0 229.0L162.5 229.0L162.0 217.8L161.5 217.3L161.0 215.5L160.5 211.6L160.0 211.8L159.5 213.4L159.0 212.6L158.5 213.2L158.0 213.3L157.5 213.3L157.0 213.9L156.5 213.5L156.0 212.6L155.5 213.3L155.0 213.4L154.5 216.9L154.0 217.9L153.5 217.9L153.0 217.9L152.5 219.0L152.0 219.0L151.5 219.0L151.0 215.9L150.5 213.5L150.0 212.4L149.5 212.2L149.0 211.7L148.5 211.2L148.0 211.2L147.5 211.2L147.0 211.2L146.5 212.2L146.0 215.3L145.5 215.8L145.0 216.3L144.5 224.0L144.0 224.0L143.5 216.0L143.0 215.5L142.5 215.0L142.0 211.6L141.5 210.9L141.0 210.9L140.5 210.9L140.0 211.9L139.5 212.4L139.0 212.9L138.5 212.3L138.0 211.8L137.5 211.1L137.0 212.1L136.5 213.9L136.0 214.4L135.5 220.0L135.0 220.0L134.5 220.0L134.0 215.0L133.5 213.9L133.0 212.1L132.5 211.0L132.0 210.5L131.5 208.1L131.0 208.4L130.5 208.9L130.0 209.2L129.5 211.6L129.0 211.6L128.5 211.6L128.0 212.4L127.5 214.2L127.0 214.7L126.5 221.0L126.0 221.0L125.5 221.0L125.0 214.7Z" fill="#1f77b4" stroke="#1f77b4" stroke-width="1.4" stroke-linejoin="round"/>
<rect x="125.5" y="120.5" width="775.0" height="133.0" fill="none" stroke="#000" stroke-width="1.1"/>
<path d="M125.5 253.5v5.2M171.5 253.5v5.2M262.5 253.5v5.2M353.5 253.5v5.2M444.5 253.5v5.2M535.5 253.5v5.2M626.5 253.5v5.2M718.5 253.5v5.2M809.5 253.5v5.2M900.5 253.5v5.2M125.5 122.5h-5.2M125.5 181.5h-5.2M125.5 241.5h-5.2" stroke="#000" stroke-width="1.1" fill="none"/>
<path d="M216.5 253.5v3.1M307.5 253.5v3.1M399.5 253.5v3.1M490.5 253.5v3.1M581.5 253.5v3.1M672.5 253.5v3.1M763.5 253.5v3.1M854.5 253.5v3.1" stroke="#000" stroke-width="0.85" fill="none"/>
<text x="170.69" y="272.90" font-size="14" text-anchor="middle" textLength="34.6" lengthAdjust="spacingAndGlyphs">2020</text>
<text x="261.86" y="272.90" font-size="14" text-anchor="middle" textLength="34.6" lengthAdjust="spacingAndGlyphs">2030</text>
<text x="353.04" y="272.90" font-size="14" text-anchor="middle" textLength="34.6" lengthAdjust="spacingAndGlyphs">2040</text>
<text x="444.22" y="272.90" font-size="14" text-anchor="middle" textLength="34.6" lengthAdjust="spacingAndGlyphs">2050</text>
<text x="535.39" y="272.90" font-size="14" text-anchor="middle" textLength="34.6" lengthAdjust="spacingAndGlyphs">2060</text>
<text x="626.57" y="272.90" font-size="14" text-anchor="middle" textLength="34.6" lengthAdjust="spacingAndGlyphs">2070</text>
<text x="717.75" y="272.90" font-size="14" text-anchor="middle" textLength="34.6" lengthAdjust="spacingAndGlyphs">2080</text>
<text x="808.92" y="272.90" font-size="14" text-anchor="middle" textLength="34.6" lengthAdjust="spacingAndGlyphs">2090</text>
<text x="115.10" y="127.50" font-size="14" text-anchor="end" textLength="8.5" lengthAdjust="spacingAndGlyphs">2</text>
<text x="115.10" y="186.50" font-size="14" text-anchor="end" textLength="8.5" lengthAdjust="spacingAndGlyphs">0</text>
<text x="115.10" y="246.50" font-size="14" text-anchor="end" textLength="19.7" lengthAdjust="spacingAndGlyphs">−2</text>
<text x="86.00" y="187.60" font-size="14" text-anchor="middle" textLength="68.9" lengthAdjust="spacingAndGlyphs" transform="rotate(-90 86.00 187.60)">fieldmean</text>
<clipPath id="c1"><rect x="125.0" y="279.31" width="775.0" height="132.76"/></clipPath>
<path clip-path="url(#c1)" d="M125.0 290.6L125.5 290.6L126.0 290.6L126.5 290.6L127.0 290.6L127.5 294.4L128.0 294.9L128.5 297.1L129.0 297.6L129.5 297.5L130.0 297.9L130.5 297.9L131.0 298.0L131.5 297.4L132.0 295.3L132.5 294.8L133.0 291.4L133.5 291.4L134.0 291.4L134.5 291.4L135.0 291.4L135.5 294.8L136.0 295.3L136.5 297.4L137.0 297.6L137.5 298.7L138.0 298.3L138.5 297.4L139.0 297.9L139.5 298.2L140.0 298.1L140.5 298.3L141.0 297.9L141.5 296.1L142.0 296.1L142.5 296.1L143.0 296.1L143.5 296.1L144.0 294.0L144.5 294.0L145.0 294.0L145.5 294.0L146.0 294.0L146.5 296.1L147.0 296.6L147.5 296.4L148.0 296.4L148.5 297.0L149.0 297.2L149.5 297.3L150.0 297.2L150.5 295.1L151.0 294.6L151.5 290.6L152.0 290.6L152.5 290.6L153.0 290.6L153.5 290.6L154.0 294.4L154.5 294.7L155.0 296.5L155.5 296.5L156.0 296.0L156.5 295.6L157.0 295.6L157.5 295.6L158.0 295.6L158.5 295.6L159.0 297.2L159.5 296.7L160.0 294.9L160.5 294.4L161.0 290.6L161.5 290.6L162.0 290.6L162.5 290.6L163.0 290.6L163.5 294.4L164.0 294.9L164.5 297.1L165.0 298.4L165.5 298.4L166.0 298.6L166.5 298.4L167.0 298.4L167.5 297.7L168.0 298.0L168.5 297.2L169.0 294.5L169.5 294.4L170.0 293.9L170.5 289.6L171.0 289.6L171.5 289.6L172.0 289.6L172.5 289.6L173.0 294.1L173.5 294.6L174.0 296.1L174.5 296.1L175.0 296.1L175.5 296.1L176.0 296.6L176.5 296.6L177.0 296.6L177.5 296.6L178.0 297.5L178.5 297.5L179.0 297.5L179.5 297.8L180.0 297.8L180.5 298.2L181.0 296.4L181.5 293.9L182.0 293.4L182.5 288.4L183.0 288.4L183.5 288.4L184.0 288.4L184.5 288.4L185.0 293.2L185.5 293.8L186.0 295.5L186.5 296.8L187.0 296.6L187.5 296.7L188.0 297.2L188.5 296.2L189.0 294.1L189.5 293.6L190.0 289.0L190.5 289.0L191.0 289.0L191.5 289.0L192.0 289.0L192.5 293.6L193.0 294.1L193.5 296.2L194.0 298.4L194.5 298.2L195.0 297.7L195.5 296.4L196.0 296.4L196.5 296.4L197.0 296.4L197.5 296.4L198.0 298.0L198.5 296.2L199.0 295.8L199.5 293.4L200.0 293.4L200.5 293.4L201.0 293.4L201.5 293.4L202.0 295.9L202.5 296.4L203.0 297.8L203.5 297.7L204.0 297.6L204.5 297.4L205.0 297.3L205.5 297.1L206.0 297.1L206.5 297.1L207.0 298.2L207.5 298.6L208.0 296.8L208.5 296.3L209.0 293.6L209.5 293.4L210.0 293.4L210.5 293.4L211.0 293.4L211.5 294.0L212.0 296.8L212.5 297.3L213.0 296.5L213.5 296.8L214.0 296.3L214.5 296.4L215.0 297.0L215.5 297.3L216.0 296.6L216.5 296.1L217.0 294.0L217.5 294.0L218.0 294.0L218.5 294.0L219.0 294.0L219.5 295.9L220.0 294.8L220.5 294.8L221.0 294.8L221.5 294.8L222.0 297.0L222.5 298.2L223.0 296.7L223.5 296.7L224.0 296.7L224.5 296.6L225.0 296.7L225.5 296.7L226.0 297.7L226.5 297.2L227.0 295.1L227.5 294.6L228.0 291.0L228.5 291.0L229.0 291.0L229.5 291.0L230.0 291.0L230.5 294.6L231.0 295.1L231.5 294.1L232.0 293.6L232.5 288.6L233.0 288.6L233.5 288.6L234.0 288.6L234.5 288.6L235.0 293.4L235.5 293.9L236.0 295.6L236.5 298.1L237.0 296.9L237.5 296.7L238.0 296.7L238.5 296.7L239.0 296.7L239.5 297.8L240.0 298.1L240.5 297.5L241.0 297.2L241.5 297.3L242.0 296.3L242.5 296.2L243.0 294.1L243.5 293.6L244.0 289.0L244.5 289.0L245.0 289.0L245.5 289.0L246.0 289.0L246.5 293.6L247.0 294.1L247.5 295.4L248.0 298.8L248.5 298.9L249.0 298.2L249.5 298.0L250.0 297.7L250.5 297.8L251.0 298.2L251.5 298.6L252.0 298.0L252.5 296.2L253.0 295.8L253.5 293.4L254.0 293.4L254.5 293.4L255.0 293.4L255.5 293.4L256.0 295.9L256.5 296.4L257.0 298.0L257.5 296.9L258.0 296.8L258.5 296.8L259.0 296.7L259.5 296.7L260.0 296.4L260.5 295.9L261.0 293.6L261.5 293.6L262.0 293.6L262.5 293.6L263.0 293.6L263.5 294.8L264.0 296.4L264.5 297.3L265.0 298.0L265.5 297.9L266.0 298.4L266.5 298.7L267.0 298.6L267.5 298.4L268.0 298.1L268.5 298.0L269.0 297.1L269.5 297.1L270.0 296.4L270.5 294.7L271.0 294.2L271.5 290.4L272.0 290.4L272.5 290.4L273.0 290.4L273.5 290.4L274.0 294.4L274.5 295.0L275.0 294.7L275.5 294.7L276.0 294.7L276.5 294.7L277.0 294.7L277.5 296.6L278.0 294.9L278.5 294.4L279.0 290.6L279.5 290.6L280.0 290.6L280.5 290.6L281.0 290.6L281.5 294.4L282.0 294.9L282.5 297.1L283.0 296.4L283.5 295.9L284.0 295.9L284.5 295.9L285.0 295.9L285.5 296.2L286.0 298.1L286.5 297.5L287.0 295.6L287.5 295.1L288.0 292.0L288.5 292.0L289.0 292.0L289.5 292.0L290.0 292.0L290.5 295.1L291.0 295.6L291.5 296.7L292.0 297.1L292.5 297.1L293.0 297.1L293.5 294.6L294.0 294.1L294.5 289.6L295.0 289.6L295.5 289.6L296.0 289.6L296.5 289.6L297.0 293.8L297.5 294.3L298.0 295.8L298.5 295.8L299.0 295.8L299.5 296.2L300.0 296.2L300.5 296.2L301.0 295.0L301.5 295.0L302.0 295.0L302.5 295.0L303.0 295.0L303.5 295.1L304.0 296.1L304.5 297.4L305.0 297.7L305.5 297.7L306.0 296.8L306.5 296.7L307.0 295.2L307.5 293.5L308.0 293.0L308.5 288.0L309.0 288.0L309.5 288.0L310.0 288.0L310.5 288.0L311.0 293.2L311.5 293.8L312.0 295.4L312.5 295.4L313.0 295.4L313.5 295.4L314.0 296.5L314.5 296.5L315.0 296.5L315.5 297.1L316.0 297.0L316.5 294.5L317.0 293.9L317.5 289.4L318.0 289.4L318.5 289.4L319.0 289.4L319.5 289.4L320.0 293.7L320.5 294.2L321.0 295.9L321.5 297.5L322.0 297.2L322.5 297.8L323.0 297.5L323.5 298.0L324.0 298.2L324.5 297.6L325.0 297.7L325.5 297.6L326.0 295.6L326.5 295.1L327.0 292.0L327.5 292.0L328.0 292.0L328.5 292.0L329.0 292.0L329.5 295.1L330.0 295.6L330.5 296.7L331.0 296.7L331.5 296.7L332.0 296.7L332.5 296.7L333.0 297.2L333.5 296.0L334.0 293.5L334.5 291.0L335.0 290.5L335.5 285.0L336.0 285.0L336.5 285.0L337.0 285.0L337.5 285.0L338.0 290.3L338.5 290.8L339.0 292.5L339.5 295.0L340.0 295.4L340.5 295.4L341.0 295.4L341.5 295.4L342.0 296.3L342.5 297.0L343.0 297.0L343.5 297.0L344.0 296.8L344.5 296.3L345.0 294.4L345.5 294.4L346.0 294.4L346.5 294.4L347.0 294.4L347.5 295.8L348.0 295.8L348.5 297.7L349.0 297.9L349.5 298.5L350.0 298.5L350.5 297.8L351.0 295.6L351.5 295.1L352.0 292.0L352.5 292.0L353.0 292.0L353.5 292.0L354.0 292.0L354.5 295.1L355.0 295.6L355.5 296.3L356.0 296.3L356.5 296.3L357.0 296.7L357.5 296.8L358.0 296.8L358.5 296.8L359.0 296.8L359.5 297.2L360.0 297.5L360.5 297.3L361.0 296.6L361.5 296.1L362.0 294.0L362.5 294.0L363.0 294.0L363.5 294.0L364.0 294.0L364.5 296.1L365.0 296.6L365.5 296.9L366.0 296.9L366.5 296.9L367.0 296.9L367.5 298.2L368.0 298.0L368.5 296.4L369.0 296.4L369.5 296.4L370.0 295.6L370.5 295.1L371.0 292.0L371.5 292.0L372.0 292.0L372.5 292.0L373.0 292.0L373.5 293.8L374.0 293.2L374.5 288.0L375.0 288.0L375.5 288.0L376.0 288.0L376.5 288.0L377.0 293.0L377.5 293.5L378.0 295.2L378.5 297.6L379.0 297.2L379.5 297.1L380.0 296.6L380.5 296.1L381.0 294.0L381.5 294.0L382.0 294.0L382.5 294.0L383.0 294.0L383.5 296.1L384.0 296.2L384.5 297.1L385.0 294.8L385.5 294.8L386.0 294.8L386.5 294.8L387.0 294.8L387.5 294.8L388.0 295.1L388.5 296.7L389.0 296.7L389.5 296.7L390.0 295.0L390.5 295.0L391.0 295.0L391.5 295.0L392.0 295.0L392.5 296.9L393.0 297.3L393.5 297.3L394.0 297.5L394.5 297.8L395.0 298.4L395.5 298.3L396.0 298.1L396.5 297.6L397.0 297.0L397.5 297.6L398.0 296.6L398.5 296.1L399.0 294.0L399.5 294.0L400.0 294.0L400.5 294.0L401.0 294.0L401.5 296.1L402.0 296.6L402.5 297.3L403.0 297.1L403.5 294.1L404.0 294.1L404.5 294.1L405.0 294.1L405.5 294.1L406.0 294.1L406.5 294.1L407.0 296.8L407.5 296.6L408.0 294.4L408.5 293.9L409.0 289.6L409.5 289.6L410.0 289.6L410.5 289.6L411.0 289.6L411.5 293.9L412.0 294.1L412.5 294.1L413.0 296.1L413.5 296.9L414.0 297.3L414.5 297.1L415.0 297.8L415.5 297.7L416.0 296.8L416.5 296.3L417.0 294.4L417.5 294.4L418.0 294.4L418.5 294.4L419.0 294.4L419.5 294.8L420.0 294.8L420.5 295.0L421.0 297.2L421.5 297.2L422.0 296.9L422.5 297.2L423.0 296.7L423.5 297.6L424.0 296.6L424.5 294.1L425.0 293.6L425.5 288.6L426.0 288.6L426.5 288.6L427.0 288.6L427.5 288.6L428.0 293.3L428.5 293.8L429.0 295.5L429.5 297.0L430.0 297.0L430.5 297.0L431.0 297.0L431.5 296.3L432.0 295.9L432.5 295.4L433.0 292.6L433.5 292.6L434.0 292.6L434.5 292.6L435.0 292.6L435.5 295.4L436.0 295.9L436.5 297.5L437.0 297.8L437.5 295.3L438.0 294.4L438.5 294.4L439.0 294.4L439.5 294.4L440.0 294.4L440.5 297.2L441.0 298.3L441.5 298.3L442.0 298.1L442.5 297.2L443.0 295.1L443.5 294.6L444.0 291.0L444.5 291.0L445.0 291.0L445.5 291.0L446.0 291.0L446.5 294.6L447.0 295.1L447.5 296.9L448.0 297.9L448.5 296.0L449.0 296.0L449.5 296.0L450.0 296.0L450.5 296.0L451.0 297.4L451.5 296.9L452.0 297.5L452.5 297.6L453.0 297.8L453.5 295.3L454.0 294.8L454.5 291.0L455.0 291.0L455.5 291.0L456.0 291.0L456.5 291.0L457.0 294.5L457.5 295.0L458.0 296.4L458.5 296.4L459.0 297.3L459.5 297.3L460.0 297.3L460.5 297.3L461.0 296.6L461.5 296.1L462.0 294.0L462.5 294.0L463.0 294.0L463.5 294.0L464.0 294.0L464.5 296.1L465.0 296.6L465.5 296.8L466.0 296.9L466.5 297.3L467.0 297.2L467.5 295.7L468.0 294.4L468.5 294.4L469.0 294.4L469.5 294.4L470.0 294.4L470.5 296.5L471.0 296.6L471.5 296.1L472.0 296.1L472.5 295.6L473.0 293.0L473.5 293.0L474.0 293.0L474.5 293.0L475.0 293.0L475.5 295.6L476.0 296.1L476.5 298.2L477.0 297.3L477.5 297.3L478.0 295.0L478.5 295.0L479.0 295.0L479.5 295.0L480.0 295.0L480.5 295.0L481.0 295.3L481.5 295.9L482.0 294.0L482.5 294.0L483.0 294.0L483.5 294.0L484.0 294.0L484.5 296.1L485.0 296.6L485.5 296.6L486.0 297.0L486.5 297.8L487.0 297.8L487.5 298.1L488.0 298.5L488.5 298.1L489.0 296.4L489.5 295.9L490.0 293.6L490.5 293.6L491.0 293.6L491.5 293.6L492.0 293.6L492.5 295.8L493.0 295.8L493.5 295.8L494.0 295.5L494.5 294.9L495.0 294.9L495.5 294.9L496.0 294.9L496.5 292.0L497.0 292.0L497.5 292.0L498.0 292.0L498.5 292.0L499.0 295.0L499.5 295.5L500.0 297.2L500.5 297.8L501.0 297.8L501.5 297.4L502.0 297.0L502.5 296.5L503.0 296.5L503.5 296.6L504.0 296.6L504.5 296.6L505.0 296.5L505.5 296.2L506.0 296.3L506.5 296.3L507.0 295.6L507.5 295.1L508.0 292.0L508.5 292.0L509.0 292.0L509.5 292.0L510.0 292.0L510.5 295.1L511.0 295.6L511.5 296.8L512.0 296.6L512.5 296.8L513.0 296.9L513.5 297.3L514.0 297.1L514.5 297.0L515.0 297.2L515.5 297.3L516.0 295.6L516.5 295.1L517.0 292.0L517.5 292.0L518.0 292.0L518.5 292.0L519.0 292.0L519.5 295.1L520.0 295.6L520.5 297.5L521.0 297.6L521.5 297.5L522.0 296.9L522.5 296.6L523.0 296.7L523.5 297.3L524.0 297.0L524.5 294.5L525.0 293.9L525.5 289.4L526.0 289.4L526.5 289.4L527.0 289.4L527.5 289.4L528.0 293.7L528.5 294.2L529.0 295.9L529.5 297.8L530.0 297.6L530.5 297.1L531.0 296.7L531.5 297.0L532.0 297.4L532.5 296.0L533.0 295.5L533.5 293.0L534.0 293.0L534.5 293.0L535.0 293.0L535.5 293.0L536.0 295.8L536.5 295.6L537.0 295.1L537.5 291.6L538.0 291.6L538.5 291.6L539.0 291.6L539.5 291.6L540.0 294.8L540.5 295.3L541.0 297.0L541.5 298.3L542.0 298.7L542.5 298.6L543.0 298.0L543.5 298.2L544.0 297.5L544.5 296.1L545.0 293.9L545.5 293.4L546.0 288.6L546.5 288.6L547.0 288.6L547.5 288.6L548.0 288.6L548.5 293.4L549.0 293.9L549.5 296.1L550.0 296.2L550.5 296.2L551.0 296.7L551.5 295.0L552.0 294.5L552.5 291.0L553.0 291.0L553.5 291.0L554.0 291.0L554.5 291.0L555.0 294.3L555.5 294.3L556.0 294.5L556.5 294.3L557.0 294.3L557.5 294.3L558.0 294.3L558.5 294.3L559.0 294.3L559.5 296.3L560.0 296.4L560.5 296.5L561.0 297.7L561.5 297.2L562.0 296.5L562.5 294.8L563.0 294.3L563.5 290.6L564.0 290.6L564.5 290.6L565.0 290.6L565.5 290.6L566.0 294.6L566.5 295.1L567.0 296.5L567.5 296.7L568.0 297.3L568.5 297.5L569.0 297.5L569.5 297.5L570.0 297.8L570.5 296.4L571.0 294.3L571.5 293.8L572.0 289.4L572.5 289.4L573.0 289.4L573.5 289.4L574.0 289.4L574.5 293.8L575.0 294.3L575.5 296.0L576.0 297.5L576.5 298.1L577.0 298.2L577.5 298.4L578.0 297.4L578.5 296.9L579.0 296.3L579.5 295.8L580.0 293.4L580.5 293.4L581.0 293.4L581.5 293.4L582.0 293.4L582.5 295.8L583.0 296.3L583.5 297.0L584.0 297.0L584.5 297.5L585.0 297.3L585.5 297.2L586.0 297.3L586.5 297.2L587.0 297.5L587.5 297.6L588.0 297.2L588.5 296.9L589.0 296.9L589.5 295.8L590.0 295.3L590.5 292.6L591.0 292.6L591.5 292.6L592.0 292.6L592.5 292.6L593.0 295.6L593.5 296.1L594.0 293.6L594.5 293.6L595.0 293.6L595.5 293.6L596.0 293.6L596.5 293.6L597.0 295.2L597.5 295.2L598.0 295.2L598.5 294.3L599.0 293.8L599.5 289.0L600.0 289.0L600.5 289.0L601.0 289.0L601.5 289.0L602.0 293.5L602.5 294.0L603.0 295.7L603.5 297.6L604.0 297.7L604.5 298.1L605.0 297.9L605.5 297.0L606.0 297.0L606.5 297.0L607.0 297.0L607.5 295.8L608.0 295.3L608.5 292.6L609.0 292.6L609.5 292.6L610.0 292.6L610.5 292.6L611.0 295.6L611.5 296.1L612.0 298.0L612.5 297.9L613.0 298.3L613.5 296.6L614.0 296.6L614.5 295.6L615.0 295.3L615.5 295.3L616.0 294.5L616.5 292.8L617.0 292.3L617.5 287.0L618.0 287.0L618.5 287.0L619.0 287.0L619.5 287.0L620.0 292.5L620.5 293.0L621.0 295.5L621.5 297.1L622.0 297.8L622.5 298.3L623.0 298.1L623.5 298.4L624.0 298.2L624.5 297.4L625.0 297.5L625.5 297.5L626.0 297.0L626.5 296.5L627.0 294.6L627.5 294.6L628.0 294.6L628.5 294.6L629.0 294.6L629.5 295.7L630.0 295.5L630.5 295.5L631.0 295.5L631.5 295.5L632.0 295.5L632.5 294.0L633.0 294.0L633.5 294.0L634.0 294.0L634.5 294.0L635.0 296.0L635.5 296.5L636.0 296.4L636.5 296.2L637.0 296.7L637.5 295.9L638.0 295.9L638.5 295.9L639.0 295.9L639.5 296.9L640.0 297.2L640.5 297.2L641.0 297.2L641.5 297.2L642.0 297.2L642.5 297.2L643.0 296.9L643.5 296.4L644.0 295.5L644.5 295.9L645.0 295.5L645.5 294.5L646.0 294.0L646.5 290.0L647.0 290.0L647.5 290.0L648.0 290.0L648.5 290.0L649.0 294.2L649.5 294.8L650.0 296.7L650.5 298.2L651.0 297.9L651.5 297.4L652.0 297.2L652.5 297.2L653.0 297.6L653.5 296.1L654.0 296.1L654.5 294.5L655.0 293.9L655.5 289.4L656.0 289.4L656.5 289.4L657.0 289.4L657.5 289.4L658.0 293.7L658.5 294.2L659.0 295.9L659.5 297.9L660.0 297.2L660.5 297.3L661.0 296.5L661.5 294.8L662.0 294.2L662.5 290.0L663.0 290.0L663.5 290.0L664.0 290.0L664.5 290.0L665.0 294.0L665.5 294.5L666.0 296.2L666.5 297.7L667.0 297.4L667.5 296.2L668.0 296.2L668.5 296.2L669.0 296.2L669.5 296.2L670.0 295.8L670.5 293.6L671.0 293.6L671.5 293.6L672.0 293.6L672.5 293.6L673.0 296.1L673.5 296.6L674.0 297.8L674.5 297.3L675.0 297.8L675.5 298.0L676.0 298.4L676.5 298.9L677.0 298.4L677.5 298.2L678.0 297.8L678.5 297.3L679.0 297.4L679.5 297.4L680.0 297.7L680.5 297.4L681.0 297.5L681.5 296.9L682.0 294.8L682.5 294.3L683.0 290.4L683.5 290.4L684.0 290.4L684.5 290.4L685.0 290.4L685.5 294.3L686.0 294.8L686.5 296.9L687.0 297.3L687.5 297.1L688.0 296.8L688.5 297.5L689.0 295.4L689.5 294.9L690.0 291.6L690.5 291.6L691.0 291.6L691.5 291.6L692.0 291.6L692.5 294.9L693.0 295.4L693.5 297.6L694.0 297.0L694.5 296.5L695.0 296.4L695.5 296.5L696.0 296.5L696.5 296.5L697.0 298.4L697.5 298.3L698.0 298.4L698.5 298.5L699.0 298.6L699.5 297.2L700.0 295.1L700.5 294.6L701.0 291.0L701.5 291.0L702.0 291.0L702.5 291.0L703.0 291.0L703.5 294.6L704.0 295.1L704.5 295.9L705.0 296.9L705.5 297.3L706.0 296.6L706.5 296.1L707.0 294.0L707.5 294.0L708.0 294.0L708.5 294.0L709.0 294.0L709.5 296.1L710.0 296.6L710.5 297.4L711.0 297.2L711.5 296.9L712.0 296.7L712.5 296.0L713.0 296.1L713.5 296.4L714.0 296.3L714.5 297.1L715.0 297.2L715.5 296.4L716.0 294.3L716.5 293.8L717.0 289.4L717.5 289.4L718.0 289.4L718.5 289.4L719.0 289.4L719.5 293.8L720.0 294.3L720.5 296.2L721.0 297.5L721.5 297.3L722.0 297.1L722.5 296.7L723.0 297.1L723.5 297.6L724.0 297.2L724.5 297.1L725.0 295.4L725.5 294.9L726.0 291.6L726.5 291.6L727.0 291.6L727.5 291.6L728.0 291.6L728.5 294.9L729.0 295.4L729.5 296.5L730.0 296.8L730.5 296.4L731.0 296.4L731.5 296.4L732.0 296.4L732.5 297.2L733.0 297.2L733.5 298.9L734.0 298.1L734.5 297.5L735.0 297.4L735.5 297.2L736.0 295.4L736.5 294.9L737.0 291.6L737.5 291.6L738.0 291.6L738.5 291.6L739.0 291.6L739.5 294.9L740.0 295.4L740.5 296.2L741.0 296.2L741.5 296.2L742.0 296.2L742.5 296.6L743.0 297.2L743.5 296.8L744.0 294.6L744.5 294.1L745.0 290.0L745.5 290.0L746.0 290.0L746.5 290.0L747.0 290.0L747.5 294.1L748.0 294.6L748.5 296.3L749.0 296.3L749.5 296.3L750.0 296.3L750.5 297.1L751.0 297.2L751.5 297.9L752.0 297.7L752.5 298.5L753.0 298.2L753.5 293.5L754.0 292.7L754.5 292.7L755.0 292.7L755.5 292.7L756.0 292.7L756.5 293.8L757.0 297.6L757.5 298.6L758.0 298.1L758.5 298.4L759.0 297.7L759.5 297.8L760.0 297.5L760.5 296.6L761.0 296.9L761.5 296.9L762.0 296.0L762.5 296.0L763.0 296.0L763.5 296.0L764.0 294.6L764.5 294.6L765.0 294.6L765.5 294.6L766.0 294.6L766.5 294.6L767.0 294.8L767.5 296.6L768.0 296.2L768.5 295.8L769.0 293.6L769.5 293.1L770.0 288.0L770.5 288.0L771.0 288.0L771.5 288.0L772.0 288.0L772.5 293.1L773.0 293.6L773.5 295.8L774.0 296.7L774.5 296.7L775.0 296.7L775.5 296.7L776.0 296.7L776.5 297.0L777.0 297.0L777.5 297.0L778.0 296.9L778.5 297.4L779.0 296.3L779.5 295.1L780.0 295.1L780.5 295.1L781.0 294.9L781.5 294.4L782.0 290.6L782.5 290.6L783.0 290.6L783.5 290.6L784.0 290.6L784.5 294.4L785.0 294.9L785.5 297.1L786.0 297.4L786.5 297.5L787.0 297.3L787.5 297.7L788.0 295.2L788.5 293.5L789.0 293.0L789.5 288.0L790.0 288.0L790.5 288.0L791.0 288.0L791.5 288.0L792.0 293.2L792.5 293.8L793.0 296.3L793.5 297.3L794.0 297.2L794.5 297.6L795.0 296.6L795.5 297.6L796.0 297.4L796.5 297.1L797.0 297.1L797.5 297.1L798.0 295.1L798.5 294.6L799.0 291.0L799.5 291.0L800.0 291.0L800.5 291.0L801.0 291.0L801.5 294.6L802.0 295.1L802.5 297.1L803.0 296.6L803.5 297.1L804.0 297.1L804.5 297.1L805.0 297.1L805.5 297.1L806.0 296.3L806.5 296.3L807.0 296.3L807.5 296.3L808.0 296.1L808.5 295.6L809.0 293.0L809.5 293.0L810.0 293.0L810.5 293.0L811.0 293.0L811.5 295.6L812.0 296.1L812.5 297.9L813.0 296.3L813.5 294.1L814.0 294.1L814.5 294.1L815.0 294.1L815.5 296.8L816.0 297.1L816.5 297.2L817.0 296.7L817.5 295.8L818.0 295.2L818.5 292.0L819.0 292.0L819.5 292.0L820.0 292.0L820.5 292.0L821.0 295.0L821.5 295.5L822.0 296.7L822.5 296.5L823.0 296.6L823.5 297.3L824.0 297.8L824.5 297.7L825.0 297.4L825.5 297.5L826.0 296.9L826.5 296.4L827.0 294.3L827.5 293.8L828.0 289.4L828.5 289.4L829.0 289.4L829.5 289.4L830.0 289.4L830.5 293.8L831.0 294.3L831.5 296.4L832.0 297.0L832.5 297.3L833.0 297.5L833.5 297.4L834.0 297.4L834.5 296.9L835.0 296.9L835.5 296.9L836.0 295.6L836.5 295.1L837.0 292.0L837.5 292.0L838.0 292.0L838.5 292.0L839.0 292.0L839.5 295.1L840.0 295.6L840.5 297.2L841.0 297.3L841.5 297.3L842.0 297.3L842.5 297.4L843.0 296.1L843.5 295.6L844.0 293.0L844.5 293.0L845.0 293.0L845.5 293.0L846.0 293.0L846.5 295.6L847.0 296.1L847.5 296.6L848.0 296.7L848.5 296.7L849.0 296.7L849.5 296.7L850.0 296.7L850.5 296.7L851.0 297.5L851.5 297.5L852.0 296.5L852.5 296.5L853.0 296.5L853.5 296.5L854.0 294.6L854.5 294.1L855.0 290.0L855.5 290.0L856.0 290.0L856.5 290.0L857.0 290.0L857.5 294.1L858.0 294.6L858.5 296.8L859.0 296.9L859.5 296.7L860.0 297.0L860.5 297.3L861.0 295.6L861.5 295.1L862.0 292.0L862.5 292.0L863.0 292.0L863.5 292.0L864.0 292.0L864.5 295.1L865.0 295.6L865.5 297.8L866.0 297.6L866.5 297.4L867.0 297.4L867.5 297.4L868.0 297.4L868.5 297.1L869.0 297.2L869.5 297.0L870.0 297.1L870.5 296.4L871.0 295.0L871.5 295.0L872.0 295.0L872.5 295.0L873.0 295.0L873.5 295.2L874.0 295.2L874.5 295.2L875.0 295.6L875.5 297.6L876.0 297.5L876.5 296.7L877.0 297.1L877.5 296.4L878.0 296.4L878.5 295.4L879.0 295.4L879.5 293.0L880.0 293.0L880.5 293.0L881.0 293.0L881.5 293.0L882.0 294.9L882.5 294.4L883.0 290.6L883.5 290.6L884.0 290.6L884.5 290.6L885.0 290.6L885.5 294.4L886.0 294.9L886.5 295.0L887.0 295.0L887.5 295.2L888.0 298.0L888.5 297.8L889.0 297.9L889.5 296.2L890.0 294.1L890.5 293.6L891.0 289.0L891.5 289.0L892.0 289.0L892.5 289.0L893.0 289.0L893.5 293.6L894.0 294.1L894.5 294.3L895.0 294.3L895.5 294.3L896.0 294.3L896.5 296.4L897.0 296.1L897.5 295.6L898.0 293.0L898.5 293.0L899.0 293.0L899.5 293.0L900.0 293.0L900.0 351.2L899.5 350.9L899.0 355.0L898.5 350.9L898.0 350.3L897.5 353.4L897.0 353.4L896.5 353.4L896.0 353.4L895.5 353.4L895.0 353.4L894.5 353.4L894.0 351.5L893.5 351.5L893.0 351.5L892.5 351.2L892.0 351.9L891.5 352.9L891.0 360.0L890.5 354.7L890.0 354.7L889.5 354.6L889.0 352.8L888.5 355.1L888.0 355.5L887.5 355.5L887.0 355.5L886.5 355.5L886.0 355.5L885.5 354.9L885.0 353.4L884.5 353.7L884.0 360.0L883.5 360.8L883.0 378.5L882.5 401.0L882.0 401.0L881.5 361.1L881.0 360.3L880.5 356.5L880.0 352.2L879.5 352.7L879.0 352.7L878.5 352.7L878.0 352.7L877.5 352.7L877.0 352.7L876.5 355.4L876.0 357.0L875.5 357.0L875.0 357.0L874.5 357.0L874.0 374.4L873.5 374.4L873.0 355.7L872.5 354.9L872.0 355.0L871.5 355.0L871.0 355.0L870.5 355.0L870.0 355.0L869.5 352.2L869.0 352.4L868.5 354.5L868.0 362.0L867.5 355.4L867.0 355.4L866.5 355.4L866.0 355.4L865.5 355.4L865.0 355.4L864.5 368.4L864.0 368.4L863.5 353.9L863.0 353.2L862.5 350.1L862.0 349.9L861.5 353.7L861.0 353.7L860.5 353.7L860.0 354.4L859.5 357.6L859.0 357.6L858.5 357.6L858.0 357.6L857.5 357.6L857.0 359.2L856.5 359.4L856.0 359.4L855.5 359.4L855.0 364.0L854.5 356.5L854.0 352.8L853.5 352.1L853.0 351.0L852.5 351.5L852.0 353.5L851.5 354.2L851.0 354.2L850.5 354.2L850.0 354.2L849.5 354.2L849.0 351.6L848.5 349.3L848.0 355.6L847.5 356.4L847.0 358.5L846.5 381.0L846.0 381.0L845.5 356.7L845.0 355.9L844.5 353.2L844.0 356.7L843.5 360.2L843.0 360.3L842.5 360.3L842.0 360.3L841.5 360.3L841.0 360.3L840.5 357.3L840.0 353.8L839.5 350.8L839.0 355.9L838.5 356.7L838.0 359.9L837.5 382.4L837.0 382.4L836.5 357.0L836.0 356.2L835.5 352.4L835.0 354.4L834.5 354.4L834.0 354.4L833.5 354.4L833.0 351.0L832.5 351.2L832.0 350.6L831.5 350.9L831.0 351.0L830.5 351.1L830.0 351.9L829.5 357.0L829.0 357.0L828.5 353.0L828.0 353.0L827.5 353.0L827.0 355.0L826.5 355.0L826.0 355.0L825.5 353.9L825.0 350.5L824.5 349.9L824.0 350.8L823.5 351.3L823.0 353.3L822.5 354.6L822.0 354.6L821.5 354.6L821.0 354.3L820.5 352.7L820.0 353.5L819.5 359.5L819.0 367.0L818.5 359.5L818.0 353.5L817.5 352.7L817.0 349.2L816.5 349.6L816.0 350.4L815.5 351.0L815.0 350.0L814.5 351.0L814.0 351.0L813.5 351.2L813.0 351.2L812.5 351.2L812.0 351.2L811.5 351.2L811.0 354.8L810.5 355.5L810.0 356.3L809.5 377.0L809.0 377.0L808.5 355.8L808.0 355.1L807.5 351.2L807.0 348.4L806.5 348.4L806.0 348.4L805.5 346.8L805.0 344.6L804.5 346.4L804.0 347.8L803.5 354.8L803.0 361.1L802.5 361.9L802.0 383.5L801.5 406.0L801.0 406.0L800.5 362.2L800.0 361.4L799.5 357.6L799.0 350.6L798.5 349.8L798.0 351.5L797.5 352.3L797.0 361.0L796.5 361.0L796.0 354.5L795.5 354.5L795.0 354.5L794.5 354.5L794.0 352.1L793.5 353.7L793.0 353.8L792.5 354.6L792.0 371.4L791.5 371.4L791.0 355.0L790.5 354.3L790.0 353.5L789.5 351.2L789.0 352.4L788.5 353.2L788.0 365.0L787.5 365.0L787.0 353.6L786.5 352.9L786.0 352.1L785.5 350.9L785.0 350.9L784.5 350.9L784.0 350.9L783.5 350.9L783.0 350.4L782.5 351.0L782.0 350.5L781.5 351.3L781.0 352.1L780.5 353.1L780.0 360.6L779.5 353.1L779.0 352.1L778.5 352.8L778.0 352.8L777.5 352.8L777.0 352.8L776.5 352.8L776.0 352.8L775.5 351.0L775.0 351.2L774.5 351.4L774.0 351.1L773.5 352.1L773.0 355.6L772.5 357.2L772.0 357.2L771.5 357.2L771.0 357.2L770.5 355.2L770.0 355.2L769.5 355.2L769.0 355.2L768.5 353.4L768.0 348.9L767.5 354.9L767.0 358.4L766.5 361.2L766.0 361.2L765.5 362.9L765.0 370.4L764.5 362.9L764.0 354.6L763.5 353.5L763.0 352.2L762.5 352.2L762.0 352.2L761.5 351.4L761.0 354.1L760.5 354.1L760.0 354.1L759.5 354.1L759.0 351.5L758.5 351.4L758.0 352.2L757.5 353.0L757.0 364.0L756.5 364.0L756.0 353.4L755.5 352.7L755.0 351.9L754.5 347.2L754.0 346.5L753.5 346.0L753.0 345.4L752.5 345.1L752.0 345.0L751.5 349.1L751.0 349.7L750.5 349.7L750.0 349.7L749.5 349.7L749.0 349.7L748.5 354.4L748.0 358.2L747.5 359.0L747.0 391.4L746.5 391.4L746.0 368.9L745.5 358.7L745.0 357.9L744.5 352.3L744.0 352.3L743.5 352.0L743.0 351.6L742.5 351.5L742.0 351.5L741.5 351.5L741.0 351.5L740.5 351.7L740.0 351.7L739.5 351.7L739.0 352.4L738.5 354.5L738.0 362.0L737.5 354.5L737.0 352.4L736.5 351.6L736.0 350.5L735.5 350.5L735.0 351.3L734.5 352.0L734.0 357.0L733.5 352.0L733.0 351.9L732.5 351.9L732.0 351.9L731.5 351.3L731.0 351.3L730.5 350.7L730.0 348.7L729.5 351.8L729.0 355.6L728.5 356.4L728.0 379.6L727.5 379.6L727.0 357.1L726.5 356.1L726.0 355.3L725.5 349.0L725.0 348.9L724.5 348.9L724.0 348.9L723.5 348.9L723.0 348.9L722.5 348.9L722.0 348.1L721.5 348.7L721.0 351.7L720.5 351.7L720.0 354.2L719.5 354.9L719.0 373.0L718.5 373.0L718.0 355.4L717.5 354.6L717.0 353.9L716.5 351.3L716.0 350.4L715.5 350.4L715.0 350.4L714.5 350.4L714.0 350.5L713.5 351.2L713.0 352.0L712.5 357.6L712.0 357.6L711.5 351.5L711.0 350.8L710.5 349.9L710.0 349.7L709.5 350.7L709.0 351.0L708.5 352.3L708.0 353.0L707.5 357.5L707.0 365.0L706.5 360.0L706.0 360.0L705.5 360.0L705.0 360.0L704.5 359.5L704.0 356.0L703.5 353.3L703.0 356.6L702.5 357.4L702.0 384.0L701.5 384.0L701.0 361.5L700.5 357.1L700.0 356.3L699.5 351.1L699.0 350.2L698.5 350.2L698.0 350.2L697.5 350.2L697.0 350.0L696.5 350.0L696.0 350.0L695.5 348.8L695.0 347.7L694.5 347.3L694.0 346.8L693.5 346.2L693.0 345.6L692.5 348.1L692.0 354.5L691.5 355.2L691.0 356.0L690.5 375.6L690.0 375.6L689.5 355.5L689.0 354.8L688.5 350.9L688.0 348.7L687.5 349.3L687.0 349.6L686.5 350.7L686.0 349.6L685.5 350.7L685.0 351.2L684.5 350.9L684.0 357.3L683.5 358.0L683.0 365.9L682.5 388.4L682.0 388.4L681.5 358.3L681.0 357.6L680.5 353.7L680.0 347.0L679.5 346.7L679.0 346.3L678.5 346.1L678.0 346.1L677.5 346.1L677.0 348.3L676.5 348.3L676.0 351.4L675.5 354.9L675.0 357.5L674.5 358.2L674.0 388.0L673.5 388.0L673.0 365.5L672.5 359.6L672.0 359.6L671.5 358.6L671.0 355.1L670.5 352.3L670.0 352.5L669.5 350.9L669.0 351.2L668.5 351.1L668.0 351.3L667.5 351.7L667.0 351.4L666.5 350.9L666.0 349.3L665.5 348.3L665.0 353.7L664.5 354.5L664.0 355.2L663.5 372.4L663.0 372.4L662.5 354.8L662.0 354.0L661.5 350.2L661.0 343.7L660.5 343.7L660.0 343.7L659.5 349.4L659.0 350.8L658.5 350.8L658.0 350.8L657.5 350.8L657.0 349.9L656.5 353.9L656.0 354.7L655.5 365.1L655.0 372.6L654.5 365.1L654.0 354.7L653.5 353.9L653.0 350.3L652.5 350.2L652.0 350.3L651.5 350.4L651.0 350.4L650.5 350.0L650.0 350.3L649.5 351.2L649.0 354.7L648.5 355.8L648.0 355.8L647.5 355.8L647.0 356.5L646.5 378.0L646.0 378.0L645.5 356.0L645.0 355.3L644.5 351.4L644.0 349.9L643.5 349.4L643.0 349.5L642.5 349.5L642.0 349.3L641.5 349.3L641.0 349.3L640.5 349.3L640.0 349.3L639.5 347.1L639.0 352.5L638.5 356.0L638.0 357.6L637.5 357.6L637.0 357.6L636.5 357.6L636.0 356.7L635.5 353.2L635.0 353.0L634.5 352.8L634.0 351.2L633.5 350.0L633.0 350.2L632.5 350.6L632.0 350.0L631.5 350.4L631.0 350.5L630.5 356.3L630.0 360.2L629.5 361.0L629.0 400.4L628.5 400.4L628.0 377.9L627.5 360.7L627.0 359.9L626.5 353.5L626.0 350.2L625.5 350.0L625.0 349.9L624.5 351.4L624.0 354.9L623.5 358.1L623.0 358.1L622.5 358.1L622.0 358.1L621.5 356.0L621.0 355.8L620.5 356.5L620.0 359.1L619.5 381.6L619.0 381.6L618.5 356.8L618.0 356.1L617.5 353.5L617.0 354.3L616.5 355.2L616.0 355.2L615.5 355.2L615.0 355.2L614.5 355.2L614.0 352.9L613.5 350.7L613.0 350.0L612.5 350.1L612.0 351.1L611.5 351.6L611.0 351.6L610.5 351.6L610.0 351.6L609.5 351.6L609.0 352.1L608.5 353.1L608.0 360.6L607.5 354.4L607.0 354.4L606.5 354.4L606.0 357.0L605.5 357.0L605.0 357.0L604.5 357.0L604.0 357.0L603.5 357.0L603.0 355.1L602.5 351.6L602.0 352.9L601.5 353.9L601.0 353.9L600.5 353.9L600.0 353.9L599.5 353.9L599.0 350.8L598.5 348.9L598.0 353.6L597.5 353.6L597.0 349.4L596.5 349.5L596.0 350.2L595.5 350.8L595.0 351.9L594.5 353.9L594.0 355.3L593.5 355.3L593.0 355.3L592.5 355.3L592.0 355.3L591.5 355.3L591.0 354.3L590.5 355.0L590.0 373.4L589.5 373.4L589.0 355.5L588.5 354.7L588.0 354.0L587.5 351.2L587.0 352.7L586.5 352.7L586.0 352.7L585.5 355.0L585.0 355.0L584.5 355.0L584.0 355.0L583.5 355.1L583.0 355.9L582.5 370.5L582.0 378.0L581.5 370.5L581.0 355.9L580.5 355.1L580.0 350.0L579.5 345.1L579.0 345.0L578.5 345.1L578.0 345.5L577.5 346.0L577.0 349.8L576.5 349.8L576.0 349.8L575.5 349.8L575.0 351.2L574.5 352.0L574.0 352.7L573.5 361.0L573.0 361.0L572.5 352.3L572.0 351.5L571.5 348.0L571.0 349.7L570.5 349.2L570.0 350.0L569.5 349.6L569.0 348.4L568.5 349.5L568.0 349.4L567.5 350.1L567.0 351.1L566.5 350.4L566.0 350.8L565.5 351.3L565.0 354.5L564.5 355.2L564.0 356.0L563.5 375.6L563.0 375.6L562.5 355.5L562.0 354.8L561.5 351.4L561.0 351.9L560.5 350.8L560.0 350.8L559.5 350.8L559.0 350.8L558.5 350.8L558.0 350.6L557.5 351.4L557.0 357.8L556.5 358.5L556.0 368.1L555.5 390.6L555.0 390.6L554.5 358.8L554.0 358.1L553.5 354.2L553.0 352.1L552.5 352.1L552.0 352.1L551.5 352.6L551.0 356.1L550.5 359.6L550.0 362.1L549.5 362.1L549.0 362.1L548.5 361.3L548.0 357.8L547.5 354.3L547.0 352.5L546.5 352.5L546.0 352.5L545.5 352.5L545.0 354.2L544.5 355.0L544.0 355.7L543.5 374.6L543.0 374.6L542.5 355.3L542.0 354.5L541.5 351.2L541.0 350.6L540.5 349.5L540.0 349.9L539.5 350.1L539.0 350.2L538.5 355.4L538.0 356.1L537.5 371.5L537.0 379.0L536.5 371.5L536.0 356.1L535.5 355.4L535.0 351.6L534.5 351.6L534.0 351.6L533.5 351.6L533.0 350.8L532.5 349.8L532.0 352.8L531.5 352.8L531.0 352.8L530.5 352.8L530.0 353.0L529.5 352.6L529.0 352.2L528.5 351.2L528.0 354.4L527.5 359.5L527.0 360.3L526.5 390.5L526.0 398.0L525.5 390.5L525.0 360.3L524.5 359.5L524.0 354.4L523.5 350.9L523.0 350.9L522.5 353.7L522.0 354.5L521.5 364.1L521.0 371.6L520.5 364.1L520.0 354.5L519.5 359.5L519.0 367.0L518.5 359.5L518.0 355.7L517.5 355.7L517.0 355.7L516.5 355.0L516.0 353.0L515.5 352.3L515.0 352.4L514.5 351.2L514.0 350.2L513.5 349.7L513.0 352.9L512.5 358.0L512.0 358.7L511.5 383.5L511.0 391.0L510.5 383.5L510.0 360.5L509.5 360.5L509.0 371.1L508.5 393.6L508.0 393.6L507.5 360.5L507.0 358.7L506.5 354.9L506.0 350.0L505.5 350.1L505.0 349.5L504.5 351.9L504.0 353.6L503.5 353.6L503.0 356.6L502.5 357.4L502.0 384.0L501.5 384.0L501.0 361.5L500.5 357.1L500.0 359.0L499.5 359.8L499.0 373.9L498.5 396.4L498.0 396.4L497.5 360.1L497.0 359.3L496.5 355.5L496.0 348.5L495.5 345.4L495.0 344.7L494.5 344.2L494.0 344.0L493.5 346.5L493.0 346.5L492.5 351.6L492.0 355.5L491.5 356.3L491.0 379.0L490.5 379.0L490.0 356.7L489.5 356.0L489.0 355.2L488.5 350.8L488.0 348.6L487.5 354.0L487.0 355.3L486.5 355.3L486.0 355.3L485.5 355.3L485.0 355.3L484.5 357.8L484.0 359.9L483.5 359.9L483.0 359.9L482.5 359.0L482.0 378.0L481.5 378.0L481.0 356.5L480.5 355.7L480.0 355.0L479.5 350.1L479.0 352.7L478.5 352.7L478.0 352.7L477.5 354.9L477.0 357.7L476.5 357.7L476.0 357.7L475.5 357.7L475.0 360.9L474.5 360.9L474.0 360.9L473.5 365.5L473.0 373.0L472.5 365.5L472.0 354.8L471.5 354.0L471.0 350.3L470.5 353.8L470.0 357.0L469.5 357.0L469.0 357.0L468.5 357.0L468.0 355.2L467.5 351.7L467.0 351.5L466.5 352.0L466.0 352.7L465.5 353.0L465.0 352.9L464.5 353.7L464.0 354.4L463.5 368.6L463.0 368.6L462.5 354.0L462.0 353.2L461.5 349.3L461.0 347.4L460.5 346.5L460.0 346.5L459.5 346.5L459.0 346.5L458.5 345.5L458.0 345.9L457.5 348.2L457.0 354.5L456.5 355.3L456.0 356.0L455.5 376.0L455.0 376.0L454.5 355.6L454.0 355.6L453.5 355.6L453.0 355.6L452.5 353.8L452.0 352.1L451.5 351.5L451.0 351.4L450.5 350.3L450.0 354.0L449.5 351.5L449.0 352.7L448.5 352.7L448.0 352.7L447.5 352.2L447.0 350.9L446.5 350.3L446.0 350.3L445.5 350.3L445.0 350.2L444.5 350.9L444.0 350.3L443.5 352.4L443.0 354.6L442.5 354.6L442.0 354.6L441.5 353.9L441.0 353.9L440.5 353.9L440.0 352.0L439.5 351.2L439.0 351.2L438.5 353.6L438.0 357.5L437.5 358.2L437.0 388.0L436.5 388.0L436.0 365.5L435.5 357.9L435.0 357.2L434.5 359.1L434.0 359.9L433.5 359.9L433.0 359.9L432.5 359.9L432.0 359.9L431.5 359.7L431.0 356.2L430.5 352.7L430.0 350.6L429.5 353.6L429.0 357.5L428.5 358.2L428.0 388.0L427.5 388.0L427.0 365.5L426.5 357.9L426.0 357.2L425.5 350.8L425.0 350.0L424.5 350.7L424.0 351.5L423.5 351.7L423.0 350.5L422.5 349.1L422.0 348.6L421.5 349.6L421.0 351.2L420.5 355.4L420.0 356.1L419.5 371.5L419.0 379.0L418.5 371.5L418.0 356.1L417.5 355.4L417.0 354.8L416.5 354.8L416.0 354.8L415.5 353.6L415.0 353.6L414.5 355.8L414.0 359.3L413.5 362.1L413.0 362.1L412.5 362.1L412.0 362.1L411.5 361.6L411.0 358.1L410.5 354.6L410.0 352.6L409.5 351.4L409.0 355.0L408.5 350.9L408.0 351.3L407.5 351.7L407.0 355.2L406.5 355.8L406.0 355.8L405.5 355.8L405.0 355.8L404.5 355.8L404.0 353.9L403.5 351.3L403.0 351.3L402.5 351.9L402.0 351.9L401.5 351.9L401.0 348.6L400.5 353.2L400.0 353.9L399.5 361.5L399.0 369.0L398.5 361.5L398.0 353.9L397.5 353.2L397.0 349.7L396.5 351.0L396.0 350.5L395.5 351.0L395.0 351.6L394.5 352.4L394.0 358.6L393.5 352.4L393.0 351.9L392.5 351.5L392.0 349.6L391.5 350.3L391.0 351.0L390.5 351.8L390.0 356.0L389.5 351.8L389.0 351.0L388.5 350.3L388.0 347.3L387.5 347.3L387.0 347.3L386.5 347.3L386.0 347.3L385.5 346.3L385.0 346.3L384.5 346.3L384.0 345.5L383.5 346.8L383.0 353.1L382.5 353.9L382.0 354.6L381.5 369.6L381.0 369.6L380.5 354.2L380.0 353.4L379.5 350.5L379.0 351.3L378.5 352.0L378.0 357.0L377.5 352.0L377.0 351.3L376.5 351.2L376.0 351.9L375.5 352.7L375.0 360.0L374.5 352.7L374.0 351.9L373.5 351.2L373.0 350.5L372.5 349.5L372.0 350.2L371.5 351.6L371.0 351.5L370.5 353.1L370.0 355.0L369.5 351.8L369.0 350.9L368.5 350.0L368.0 354.0L367.5 354.6L367.0 354.6L366.5 354.6L366.0 355.5L365.5 357.6L365.0 357.6L364.5 357.6L364.0 358.8L363.5 360.7L363.0 361.0L362.5 361.0L362.0 359.3L361.5 355.8L361.0 352.3L360.5 351.5L360.0 350.9L359.5 350.2L359.0 350.4L358.5 351.3L358.0 350.8L357.5 350.7L357.0 351.3L356.5 352.0L356.0 357.0L355.5 352.0L355.0 351.3L354.5 350.5L354.0 347.0L353.5 346.4L353.0 345.9L352.5 345.3L352.0 344.7L351.5 347.0L351.0 347.0L350.5 347.0L350.0 346.9L349.5 345.3L349.0 346.4L348.5 347.4L348.0 353.0L347.5 356.3L347.0 356.3L346.5 356.3L346.0 356.3L345.5 366.0L345.0 366.0L344.5 353.4L344.0 352.6L343.5 349.7L343.0 349.9L342.5 349.9L342.0 349.7L341.5 348.7L341.0 347.4L340.5 346.6L340.0 346.0L339.5 345.4L339.0 344.7L338.5 344.1L338.0 344.0L337.5 344.1L337.0 344.6L336.5 345.3L336.0 350.5L335.5 352.1L335.0 352.1L334.5 352.1L334.0 351.9L333.5 351.9L333.0 352.7L332.5 360.6L332.0 360.6L331.5 354.4L331.0 354.4L330.5 354.4L330.0 354.4L329.5 353.5L329.0 351.2L328.5 351.2L328.0 351.6L327.5 351.8L327.0 352.8L326.5 356.3L326.0 359.8L325.5 360.0L325.0 360.0L324.5 360.0L324.0 359.5L323.5 356.0L323.0 356.6L322.5 354.1L322.0 354.1L321.5 355.2L321.0 358.1L320.5 358.1L320.0 358.1L319.5 358.1L319.0 358.1L318.5 363.5L318.0 371.0L317.5 363.5L317.0 354.3L316.5 353.6L316.0 348.5L315.5 348.1L315.0 347.7L314.5 347.5L314.0 347.1L313.5 346.3L313.0 345.7L312.5 349.1L312.0 349.1L311.5 351.4L311.0 353.0L310.5 353.0L310.0 353.0L309.5 353.0L309.0 353.0L308.5 353.0L308.0 352.0L307.5 354.8L307.0 357.2L306.5 357.2L306.0 357.2L305.5 357.2L305.0 357.2L304.5 357.1L304.0 353.6L303.5 354.3L303.0 357.8L302.5 358.2L302.0 358.2L301.5 358.2L301.0 358.2L300.5 355.0L300.0 353.6L299.5 360.1L299.0 367.6L298.5 360.1L298.0 353.6L297.5 352.8L297.0 350.2L296.5 350.2L296.0 350.2L295.5 351.2L295.0 353.1L294.5 353.6L294.0 354.7L293.5 356.0L293.0 356.0L292.5 356.0L292.0 356.0L291.5 358.5L291.0 366.0L290.5 358.5L290.0 360.8L289.5 361.0L289.0 361.0L288.5 361.0L288.0 361.0L287.5 360.1L287.0 356.6L286.5 355.8L286.0 355.8L285.5 355.8L285.0 352.6L284.5 349.3L284.0 349.4L283.5 349.1L283.0 348.7L282.5 350.1L282.0 352.9L281.5 353.7L281.0 354.4L280.5 368.6L280.0 368.6L279.5 354.0L279.0 353.2L278.5 350.2L278.0 350.0L277.5 348.9L277.0 348.7L276.5 349.4L276.0 349.8L275.5 351.0L275.0 351.5L274.5 353.4L274.0 357.0L273.5 356.8L273.0 356.8L272.5 356.8L272.0 356.8L271.5 356.8L271.0 354.4L270.5 352.9L270.0 352.9L269.5 352.9L269.0 351.0L268.5 348.1L268.0 348.1L267.5 348.1L267.0 348.1L266.5 348.1L266.0 347.5L265.5 347.3L265.0 347.6L264.5 352.4L264.0 354.1L263.5 357.9L263.0 365.4L262.5 360.7L262.0 360.7L261.5 360.7L261.0 360.7L260.5 360.7L260.0 360.7L259.5 357.2L259.0 354.5L258.5 354.5L258.0 354.5L257.5 353.6L257.0 353.7L256.5 357.2L256.0 359.7L255.5 359.7L255.0 359.7L254.5 359.7L254.0 358.2L253.5 361.5L253.0 369.0L252.5 361.5L252.0 353.9L251.5 353.2L251.0 350.7L250.5 350.7L250.0 350.7L249.5 344.5L249.0 344.3L248.5 344.3L248.0 345.3L247.5 352.3L247.0 358.7L246.5 359.5L246.0 372.5L245.5 395.0L245.0 395.0L244.5 359.8L244.0 359.0L243.5 355.1L243.0 352.6L242.5 352.6L242.0 355.5L241.5 359.0L241.0 359.2L240.5 359.2L240.0 359.2L239.5 359.2L239.0 359.0L238.5 357.1L238.0 363.0L237.5 355.5L237.0 352.6L236.5 352.2L236.0 352.2L235.5 352.2L235.0 351.8L234.5 353.5L234.0 353.5L233.5 353.5L233.0 351.8L232.5 351.0L232.0 351.1L231.5 351.5L231.0 352.2L230.5 351.3L230.0 351.3L229.5 350.6L229.0 348.9L228.5 353.0L228.0 353.8L227.5 360.9L227.0 368.4L226.5 360.9L226.0 353.8L225.5 353.0L225.0 349.5L224.5 350.6L224.0 352.4L223.5 352.3L223.0 351.9L222.5 350.9L222.0 354.6L221.5 350.5L221.0 349.8L220.5 349.8L220.0 349.6L219.5 349.7L219.0 351.0L218.5 352.2L218.0 352.4L217.5 354.5L217.0 362.0L216.5 359.5L216.0 359.5L215.5 359.5L215.0 359.5L214.5 359.5L214.0 359.5L213.5 356.8L213.0 355.7L212.5 355.7L212.0 355.7L211.5 355.7L211.0 355.7L210.5 362.4L210.0 362.4L209.5 352.6L209.0 351.8L208.5 348.0L208.0 345.0L207.5 345.1L207.0 345.5L206.5 346.0L206.0 346.7L205.5 347.6L205.0 347.8L204.5 348.3L204.0 349.5L203.5 349.5L203.0 350.0L202.5 350.6L202.0 354.1L201.5 357.6L201.0 360.0L200.5 360.0L200.0 360.0L199.5 360.0L199.0 360.6L198.5 360.6L198.0 360.6L197.5 360.6L197.0 360.6L196.5 357.6L196.0 354.1L195.5 354.0L195.0 351.9L194.5 357.0L194.0 357.0L193.5 352.5L193.0 353.9L192.5 353.9L192.0 353.9L191.5 353.9L191.0 353.9L190.5 361.4L190.0 361.4L189.5 352.4L189.0 351.6L188.5 347.8L188.0 344.8L187.5 344.8L187.0 344.8L186.5 344.8L186.0 344.7L185.5 345.2L185.0 348.9L184.5 352.4L184.0 352.5L183.5 353.4L183.0 354.1L182.5 362.5L182.0 370.0L181.5 362.5L181.0 354.1L180.5 353.4L180.0 351.4L179.5 351.4L179.0 350.0L178.5 344.7L178.0 343.7L177.5 343.2L177.0 344.6L176.5 344.8L176.0 344.8L175.5 344.9L175.0 345.6L174.5 352.2L174.0 356.1L173.5 357.3L173.0 381.6L172.5 381.6L172.0 360.5L171.5 360.5L171.0 360.5L170.5 360.5L170.0 360.5L169.5 360.4L169.0 363.0L168.5 355.5L168.0 352.7L167.5 352.7L167.0 352.7L166.5 352.7L166.0 352.7L165.5 352.7L165.0 351.9L164.5 353.7L164.0 357.6L163.5 358.3L163.0 388.4L162.5 388.4L162.0 365.9L161.5 358.0L161.0 357.3L160.5 350.9L160.0 349.0L159.5 349.3L159.0 350.2L158.5 353.7L158.0 355.7L157.5 355.7L157.0 355.7L156.5 355.7L156.0 352.8L155.5 349.3L155.0 350.1L154.5 355.3L154.0 356.0L153.5 371.1L153.0 378.6L152.5 371.1L152.0 356.0L151.5 355.3L151.0 350.8L150.5 350.8L150.0 349.6L149.5 349.8L149.0 350.9L148.5 352.2L148.0 354.0L147.5 354.0L147.0 354.0L146.5 354.0L146.0 355.4L145.5 356.1L145.0 378.4L144.5 378.4L144.0 356.6L143.5 355.8L143.0 355.1L142.5 350.0L142.0 350.0L141.5 350.0L141.0 350.0L140.5 350.0L140.0 354.0L139.5 349.9L139.0 349.2L138.5 348.4L138.0 348.0L137.5 353.2L137.0 353.9L136.5 361.5L136.0 369.0L135.5 361.5L135.0 353.9L134.5 353.2L134.0 350.6L133.5 350.6L133.0 350.6L132.5 350.6L132.0 350.6L131.5 350.5L131.0 351.3L130.5 352.0L130.0 357.0L129.5 352.0L129.0 354.5L128.5 355.2L128.0 374.4L127.5 374.4L127.0 355.7L126.5 354.9L126.0 354.2L125.5 349.7L125.0 349.0Z" fill="#1f77b4" stroke="#1f77b4" stroke-width="1.4" stroke-linejoin="round"/>
<rect x="125.5" y="279.5" width="775.0" height="133.0" fill="none" stroke="#000" stroke-width="1.1"/>
<path d="M125.5 412.5v5.2M171.5 412.5v5.2M262.5 412.5v5.2M353.5 412.5v5.2M444.5 412.5v5.2M535.5 412.5v5.2M626.5 412.5v5.2M718.5 412.5v5.2M809.5 412.5v5.2M900.5 412.5v5.2M125.5 296.5h-5.2M125.5 330.5h-5.2M125.5 365.5h-5.2M125.5 399.5h-5.2" stroke="#000" stroke-width="1.1" fill="none"/>
<path d="M216.5 412.5v3.1M307.5 412.5v3.1M399.5 412.5v3.1M490.5 412.5v3.1M581.5 412.5v3.1M672.5 412.5v3.1M763.5 412.5v3.1M854.5 412.5v3.1" stroke="#000" stroke-width="0.85" fill="none"/>
<text x="170.69" y="432.90" font-size="14" text-anchor="middle" textLength="34.6" lengthAdjust="spacingAndGlyphs">2020</text>
<text x="261.86" y="432.90" font-size="14" text-anchor="middle" textLength="34.6" lengthAdjust="spacingAndGlyphs">2030</text>
<text x="353.04" y="432.90" font-size="14" text-anchor="middle" textLength="34.6" lengthAdjust="spacingAndGlyphs">2040</text>
<text x="444.22" y="432.90" font-size="14" text-anchor="middle" textLength="34.6" lengthAdjust="spacingAndGlyphs">2050</text>
<text x="535.39" y="432.90" font-size="14" text-anchor="middle" textLength="34.6" lengthAdjust="spacingAndGlyphs">2060</text>
<text x="626.57" y="432.90" font-size="14" text-anchor="middle" textLength="34.6" lengthAdjust="spacingAndGlyphs">2070</text>
<text x="717.75" y="432.90" font-size="14" text-anchor="middle" textLength="34.6" lengthAdjust="spacingAndGlyphs">2080</text>
<text x="808.92" y="432.90" font-size="14" text-anchor="middle" textLength="34.6" lengthAdjust="spacingAndGlyphs">2090</text>
<text x="115.10" y="301.50" font-size="14" text-anchor="end" textLength="28.3" lengthAdjust="spacingAndGlyphs">−20</text>
<text x="115.10" y="335.50" font-size="14" text-anchor="end" textLength="28.3" lengthAdjust="spacingAndGlyphs">−40</text>
<text x="115.10" y="370.50" font-size="14" text-anchor="end" textLength="28.3" lengthAdjust="spacingAndGlyphs">−60</text>
<text x="115.10" y="404.50" font-size="14" text-anchor="end" textLength="28.3" lengthAdjust="spacingAndGlyphs">−80</text>
<text x="77.00" y="347.60" font-size="14" text-anchor="middle" textLength="55.4" lengthAdjust="spacingAndGlyphs" transform="rotate(-90 77.00 347.60)">fieldmin</text>
<clipPath id="c2"><rect x="125.0" y="438.62" width="775.0" height="132.76"/></clipPath>
<path clip-path="url(#c2)" d="M125.0 509.4L125.5 508.6L126.0 507.9L126.5 489.4L127.0 489.4L127.5 506.9L128.0 504.8L128.5 502.6L129.0 502.6L129.5 504.8L130.0 508.0L130.5 511.5L131.0 514.2L131.5 514.2L132.0 513.8L132.5 512.6L133.0 512.3L133.5 512.1L134.0 511.3L134.5 510.3L135.0 499.6L135.5 499.6L136.0 504.5L136.5 504.5L137.0 504.5L137.5 506.3L138.0 509.8L138.5 512.8L139.0 513.9L139.5 513.9L140.0 513.8L140.5 513.2L141.0 506.9L141.5 506.1L142.0 500.5L142.5 478.0L143.0 478.0L143.5 503.5L144.0 488.5L144.5 466.0L145.0 466.0L145.5 503.2L146.0 503.9L146.5 507.8L147.0 511.1L147.5 511.9L148.0 511.7L148.5 512.3L149.0 513.3L149.5 511.1L150.0 510.4L150.5 505.5L151.0 498.0L151.5 505.5L152.0 507.2L152.5 506.5L153.0 481.0L153.5 481.0L154.0 503.5L154.5 506.8L155.0 507.5L155.5 511.4L156.0 511.9L156.5 513.7L157.0 513.7L157.5 514.1L158.0 513.9L158.5 513.5L159.0 513.5L159.5 514.2L160.0 514.6L160.5 511.8L161.0 505.4L161.5 504.7L162.0 493.9L162.5 471.4L163.0 471.4L163.5 504.4L164.0 487.0L164.5 487.0L165.0 505.0L165.5 505.0L166.0 505.0L166.5 506.5L167.0 510.0L167.5 503.0L168.0 503.0L168.5 506.1L169.0 506.1L169.5 506.1L170.0 506.1L170.5 508.5L171.0 497.4L171.5 497.4L172.0 509.6L172.5 510.4L173.0 511.1L173.5 510.0L174.0 506.5L174.5 505.0L175.0 505.0L175.5 505.0L176.0 505.0L176.5 505.0L177.0 505.2L177.5 508.7L178.0 510.3L178.5 510.3L179.0 508.4L179.5 507.7L180.0 506.9L180.5 485.0L181.0 485.0L181.5 507.4L182.0 508.1L182.5 495.0L183.0 495.0L183.5 509.6L184.0 510.3L184.5 513.0L185.0 512.2L185.5 511.6L186.0 511.4L186.5 511.2L187.0 505.0L187.5 511.2L188.0 511.9L188.5 512.3L189.0 512.3L189.5 512.3L190.0 512.8L190.5 512.4L191.0 512.2L191.5 512.8L192.0 512.2L192.5 508.0L193.0 508.0L193.5 511.0L194.0 511.0L194.5 511.0L195.0 511.0L195.5 511.0L196.0 511.4L196.5 511.5L197.0 509.0L197.5 508.9L198.0 508.9L198.5 508.9L199.0 507.0L199.5 507.0L200.0 511.7L200.5 512.5L201.0 513.2L201.5 513.0L202.0 512.8L202.5 512.1L203.0 508.0L203.5 509.0L204.0 508.8L204.5 508.8L205.0 509.3L205.5 506.2L206.0 503.7L206.5 503.7L207.0 503.7L207.5 503.7L208.0 503.7L208.5 493.4L209.0 493.4L209.5 509.2L210.0 510.0L210.5 511.2L211.0 511.2L211.5 511.2L212.0 512.9L212.5 512.1L213.0 511.0L213.5 505.4L214.0 505.4L214.5 511.8L215.0 510.5L215.5 508.3L216.0 508.3L216.5 508.3L217.0 508.3L217.5 508.3L218.0 505.6L218.5 508.3L219.0 511.7L219.5 512.4L220.0 512.9L220.5 511.8L221.0 512.3L221.5 512.3L222.0 512.3L222.5 513.6L223.0 514.3L223.5 514.7L224.0 513.8L224.5 512.4L225.0 510.9L225.5 510.2L226.0 509.5L226.5 501.5L227.0 494.0L227.5 501.5L228.0 509.5L228.5 510.2L229.0 510.5L229.5 510.7L230.0 510.1L230.5 510.7L231.0 510.4L231.5 505.5L232.0 498.0L232.5 505.5L233.0 510.4L233.5 510.4L234.0 509.4L234.5 508.7L235.0 507.9L235.5 489.6L236.0 489.6L236.5 508.4L237.0 509.1L237.5 513.0L238.0 514.4L238.5 512.2L239.0 511.5L239.5 510.5L240.0 503.0L240.5 510.5L241.0 511.3L241.5 511.3L242.0 512.2L242.5 510.4L243.0 505.6L243.5 502.3L244.0 501.6L244.5 459.0L245.0 459.0L245.5 459.0L246.0 459.0L246.5 474.0L247.0 501.9L247.5 502.6L248.0 508.4L248.5 512.4L249.0 511.7L249.5 510.9L250.0 504.0L250.5 510.9L251.0 511.7L251.5 512.4L252.0 513.2L252.5 512.4L253.0 511.7L253.5 510.9L254.0 504.0L254.5 510.9L255.0 511.7L255.5 511.9L256.0 512.7L256.5 512.2L257.0 512.8L257.5 511.6L258.0 512.2L258.5 513.1L259.0 511.5L259.5 508.0L260.0 504.5L260.5 499.0L261.0 499.0L261.5 503.6L262.0 503.6L262.5 503.6L263.0 493.5L263.5 471.0L264.0 471.0L264.5 504.3L265.0 505.0L265.5 508.9L266.0 510.5L266.5 512.2L267.0 511.4L267.5 511.9L268.0 508.4L268.5 505.9L269.0 505.9L269.5 505.9L270.0 506.9L270.5 507.8L271.0 507.1L271.5 490.5L272.0 483.0L272.5 490.5L273.0 493.0L273.5 493.0L274.0 508.7L274.5 509.4L275.0 510.2L275.5 514.7L276.0 512.9L276.5 511.1L277.0 508.2L277.5 508.2L278.0 508.2L278.5 508.2L279.0 510.6L279.5 509.5L280.0 502.0L280.5 509.5L281.0 509.9L281.5 510.0L282.0 510.4L282.5 511.5L283.0 511.8L283.5 512.9L284.0 513.7L284.5 510.0L285.0 510.0L285.5 510.1L286.0 510.1L286.5 510.1L287.0 510.8L287.5 513.7L288.0 513.7L288.5 513.4L289.0 510.5L289.5 509.8L290.0 496.0L290.5 496.0L291.0 505.1L291.5 505.1L292.0 505.1L292.5 505.1L293.0 506.8L293.5 510.3L294.0 512.3L294.5 511.6L295.0 507.0L295.5 511.6L296.0 511.7L296.5 512.8L297.0 512.7L297.5 508.7L298.0 507.4L298.5 506.6L299.0 483.0L299.5 483.0L300.0 506.8L300.5 507.5L301.0 509.7L301.5 499.0L302.0 499.0L302.5 505.3L303.0 505.3L303.5 506.8L304.0 510.3L304.5 513.6L305.0 511.9L305.5 511.9L306.0 511.9L306.5 511.9L307.0 512.9L307.5 512.9L308.0 510.6L308.5 512.1L309.0 511.9L309.5 512.3L310.0 512.6L310.5 510.9L311.0 511.5L311.5 511.1L312.0 510.9L312.5 513.0L313.0 513.1L313.5 513.3L314.0 513.7L314.5 513.9L315.0 512.9L315.5 512.5L316.0 512.6L316.5 510.5L317.0 509.7L317.5 502.5L318.0 495.0L318.5 502.5L319.0 508.3L319.5 506.6L320.0 506.6L320.5 505.0L321.0 505.0L321.5 506.6L322.0 504.9L322.5 504.9L323.0 504.9L323.5 504.9L324.0 504.9L324.5 508.3L325.0 510.4L325.5 509.7L326.0 495.6L326.5 495.6L327.0 508.5L327.5 508.5L328.0 508.5L328.5 508.5L329.0 508.5L329.5 509.1L330.0 511.0L330.5 511.0L331.0 511.0L331.5 511.0L332.0 512.6L332.5 512.6L333.0 510.6L333.5 512.6L334.0 512.6L334.5 512.2L335.0 510.4L335.5 510.4L336.0 510.4L336.5 510.4L337.0 510.4L337.5 511.6L338.0 511.6L338.5 511.4L339.0 512.5L339.5 513.6L340.0 514.1L340.5 514.3L341.0 513.6L341.5 512.5L342.0 509.9L342.5 509.9L343.0 509.9L343.5 509.9L344.0 511.5L344.5 510.8L345.0 500.6L345.5 500.6L346.0 510.3L346.5 511.1L347.0 511.8L347.5 512.7L348.0 512.7L348.5 512.2L349.0 513.1L349.5 512.9L350.0 513.1L350.5 513.6L351.0 513.1L351.5 511.7L352.0 509.0L352.5 509.4L353.0 509.4L353.5 509.4L354.0 509.4L354.5 509.4L355.0 505.0L355.5 505.0L356.0 509.9L356.5 509.9L357.0 509.9L357.5 509.9L358.0 511.2L358.5 512.2L359.0 511.4L359.5 510.8L360.0 508.4L360.5 508.4L361.0 508.4L361.5 508.4L362.0 508.4L362.5 500.5L363.0 493.0L363.5 500.5L364.0 509.3L364.5 510.0L365.0 511.6L365.5 511.6L366.0 511.6L366.5 511.6L367.0 507.0L367.5 511.6L368.0 511.5L368.5 512.7L369.0 512.3L369.5 511.4L370.0 510.3L370.5 509.9L371.0 503.4L371.5 508.4L372.0 507.5L372.5 507.5L373.0 507.5L373.5 507.5L374.0 507.5L374.5 507.8L375.0 511.3L375.5 512.6L376.0 510.0L376.5 512.1L377.0 512.1L377.5 512.1L378.0 511.1L378.5 511.6L379.0 510.9L379.5 506.4L380.0 505.7L380.5 477.0L381.0 477.0L381.5 477.0L382.0 477.0L382.5 505.2L383.0 506.0L383.5 489.5L384.0 482.0L384.5 489.5L385.0 506.8L385.5 507.6L386.0 512.7L386.5 511.8L387.0 511.3L387.5 510.5L388.0 509.8L388.5 498.0L389.0 498.0L389.5 510.2L390.0 511.0L390.5 508.3L391.0 507.6L391.5 492.9L392.0 485.4L392.5 492.9L393.0 507.6L393.5 508.3L394.0 508.5L394.5 508.5L395.0 509.0L395.5 512.6L396.0 512.9L396.5 512.7L397.0 512.1L397.5 506.9L398.0 506.2L398.5 486.5L399.0 479.0L399.5 486.5L400.0 506.2L400.5 506.9L401.0 510.9L401.5 511.0L402.0 514.4L402.5 515.2L403.0 513.9L403.5 512.3L404.0 511.6L404.5 510.6L405.0 511.3L405.5 512.3L406.0 509.0L406.5 508.2L407.0 489.0L407.5 489.0L408.0 507.8L408.5 508.5L409.0 509.3L409.5 513.7L410.0 512.5L410.5 510.9L411.0 510.1L411.5 504.5L412.0 497.0L412.5 504.5L413.0 510.1L413.5 510.9L414.0 511.0L414.5 512.2L415.0 513.1L415.5 514.2L416.0 514.8L416.5 510.0L417.0 509.3L417.5 500.5L418.0 493.0L418.5 500.5L419.0 509.0L419.5 510.0L420.0 512.6L420.5 512.5L421.0 511.5L421.5 511.2L422.0 511.0L422.5 508.2L423.0 504.8L423.5 504.8L424.0 499.4L424.5 504.8L425.0 506.9L425.5 508.0L426.0 506.1L426.5 505.3L427.0 496.9L427.5 474.4L428.0 474.4L428.5 505.0L429.0 501.9L429.5 501.5L430.0 501.5L430.5 501.5L431.0 501.5L431.5 502.2L432.0 505.7L432.5 509.0L433.0 509.0L433.5 509.0L434.0 509.8L434.5 509.2L435.0 504.3L435.5 502.8L436.0 488.9L436.5 466.4L437.0 466.4L437.5 502.8L438.0 502.8L438.5 502.8L439.0 505.5L439.5 509.0L440.0 513.3L440.5 514.2L441.0 512.6L441.5 512.6L442.0 512.6L442.5 513.0L443.0 511.5L443.5 510.7L444.0 510.0L444.5 499.0L445.0 499.0L445.5 510.4L446.0 511.2L446.5 512.7L447.0 512.1L447.5 512.2L448.0 512.0L448.5 511.5L449.0 512.5L449.5 512.5L450.0 511.5L450.5 511.1L451.0 511.1L451.5 511.1L452.0 511.1L452.5 511.6L453.0 511.6L453.5 511.4L454.0 506.0L454.5 511.4L455.0 506.5L455.5 505.8L456.0 498.9L456.5 476.4L457.0 476.4L457.5 502.3L458.0 502.3L458.5 502.3L459.0 502.3L459.5 502.3L460.0 502.3L460.5 505.5L461.0 509.0L461.5 508.9L462.0 505.0L462.5 504.3L463.0 471.0L463.5 471.0L464.0 493.5L464.5 504.6L465.0 505.3L465.5 511.7L466.0 513.3L466.5 513.6L467.0 512.7L467.5 513.1L468.0 512.7L468.5 512.5L469.0 513.7L469.5 512.7L470.0 512.7L470.5 511.4L471.0 507.5L471.5 506.8L472.0 482.4L472.5 482.4L473.0 504.9L473.5 507.1L474.0 507.8L474.5 513.7L475.0 514.3L475.5 514.5L476.0 513.2L476.5 513.0L477.0 510.8L477.5 510.1L478.0 509.3L478.5 496.0L479.0 496.0L479.5 509.0L480.0 507.3L480.5 507.0L481.0 504.5L481.5 482.0L482.0 482.0L482.5 506.7L483.0 507.4L483.5 511.3L484.0 513.4L484.5 514.9L485.0 515.0L485.5 514.4L486.0 514.7L486.5 510.0L487.0 509.4L487.5 509.4L488.0 509.4L488.5 502.5L489.0 495.0L489.5 502.5L490.0 499.5L490.5 477.0L491.0 477.0L491.5 505.6L492.0 506.3L492.5 510.2L493.0 510.7L493.5 510.7L494.0 509.2L494.5 509.2L495.0 509.2L495.5 509.2L496.0 511.9L496.5 508.0L497.0 504.1L497.5 503.4L498.0 467.0L498.5 467.0L499.0 489.5L499.5 503.7L500.0 504.4L500.5 491.5L501.0 484.0L501.5 491.5L502.0 507.3L502.5 508.0L503.0 512.1L503.5 511.2L504.0 511.2L504.5 511.2L505.0 511.2L505.5 511.2L506.0 507.5L506.5 503.0L507.0 502.3L507.5 461.6L508.0 461.6L508.5 461.6L509.0 461.6L509.5 491.6L510.0 502.6L510.5 503.3L511.0 510.3L511.5 513.6L512.0 512.1L512.5 511.8L513.0 508.8L513.5 505.3L514.0 503.3L514.5 503.3L515.0 503.3L515.5 504.4L516.0 507.9L516.5 511.4L517.0 506.6L517.5 505.9L518.0 499.5L518.5 477.0L519.0 477.0L519.5 503.2L520.0 502.4L520.5 469.5L521.0 462.0L521.5 469.5L522.0 502.4L522.5 503.2L523.0 508.3L523.5 509.5L524.0 507.8L524.5 502.7L525.0 501.9L525.5 467.1L526.0 459.6L526.5 467.1L527.0 501.9L527.5 491.5L528.0 484.0L528.5 491.5L529.0 507.3L529.5 508.0L530.0 511.1L530.5 511.1L531.0 511.1L531.5 511.1L532.0 511.1L532.5 512.2L533.0 512.2L533.5 511.8L534.0 511.8L534.5 506.6L535.0 505.9L535.5 485.1L536.0 477.6L536.5 485.1L537.0 505.9L537.5 506.6L538.0 511.8L538.5 511.1L539.0 511.1L539.5 511.1L540.0 511.1L540.5 508.5L541.0 506.2L541.5 506.2L542.0 506.0L542.5 502.6L543.0 502.6L543.5 502.6L544.0 502.6L544.5 502.6L545.0 502.6L545.5 499.0L546.0 499.0L546.5 509.8L547.0 509.8L547.5 509.8L548.0 509.8L548.5 509.8L549.0 510.6L549.5 513.0L550.0 514.0L550.5 513.4L551.0 512.5L551.5 512.0L552.0 511.2L552.5 509.5L553.0 502.0L553.5 507.9L554.0 504.0L554.5 503.3L555.0 466.4L555.5 466.4L556.0 488.9L556.5 503.6L557.0 504.3L557.5 507.0L558.0 507.0L558.5 507.0L559.0 507.0L559.5 508.6L560.0 509.9L560.5 509.9L561.0 509.3L561.5 508.5L562.0 507.8L562.5 489.0L563.0 489.0L563.5 507.1L564.0 484.0L564.5 484.0L565.0 506.5L565.5 507.4L566.0 508.2L566.5 508.3L567.0 508.3L567.5 508.3L568.0 509.9L568.5 511.5L569.0 511.5L569.5 511.5L570.0 515.2L570.5 514.6L571.0 512.5L571.5 511.8L572.0 512.2L572.5 508.0L573.0 508.0L573.5 512.7L574.0 513.4L574.5 513.3L575.0 513.5L575.5 512.4L576.0 512.4L576.5 512.4L577.0 508.0L577.5 508.0L578.0 511.6L578.5 511.3L579.0 512.1L579.5 512.5L580.0 508.7L580.5 503.6L581.0 502.8L581.5 471.1L582.0 463.6L582.5 471.1L583.0 502.8L583.5 503.6L584.0 508.7L584.5 512.5L585.0 512.0L585.5 510.7L586.0 509.7L586.5 509.7L587.0 509.7L587.5 508.5L588.0 507.7L588.5 493.5L589.0 486.0L589.5 493.5L590.0 507.7L590.5 504.8L591.0 504.8L591.5 499.0L592.0 499.0L592.5 505.1L593.0 508.6L593.5 512.1L594.0 512.8L594.5 512.5L595.0 512.4L595.5 512.6L596.0 512.7L596.5 512.5L597.0 510.6L597.5 509.9L598.0 509.1L598.5 495.0L599.0 495.0L599.5 509.6L600.0 510.3L600.5 511.4L601.0 511.8L601.5 511.3L602.0 511.8L602.5 509.2L603.0 506.3L603.5 506.3L604.0 506.3L604.5 506.3L605.0 509.0L605.5 512.1L606.0 512.1L606.5 511.5L607.0 510.7L607.5 508.6L608.0 507.8L608.5 493.9L609.0 486.4L609.5 493.9L610.0 507.8L610.5 508.6L611.0 512.1L611.5 511.4L612.0 506.0L612.5 508.2L613.0 507.1L613.5 507.1L614.0 507.1L614.5 508.5L615.0 510.4L615.5 510.4L616.0 509.1L616.5 503.5L617.0 496.0L617.5 503.5L618.0 505.2L618.5 504.5L619.0 472.0L619.5 472.0L620.0 494.5L620.5 504.8L621.0 505.5L621.5 510.5L622.0 508.0L622.5 508.0L623.0 508.0L623.5 508.0L624.0 509.6L624.5 510.9L625.0 507.0L625.5 506.3L626.0 480.0L626.5 480.0L627.0 500.7L627.5 500.0L628.0 472.5L628.5 450.0L629.0 450.0L629.5 499.7L630.0 500.4L630.5 504.3L631.0 511.3L631.5 509.3L632.0 505.8L632.5 503.8L633.0 503.8L633.5 503.8L634.0 503.8L634.5 503.8L635.0 503.8L635.5 505.0L636.0 508.5L636.5 503.0L637.0 503.0L637.5 511.3L638.0 512.1L638.5 513.7L639.0 511.9L639.5 511.9L640.0 511.9L640.5 511.9L641.0 511.1L641.5 507.6L642.0 506.0L642.5 506.0L643.0 506.0L643.5 506.0L644.0 506.0L644.5 507.0L645.0 505.9L645.5 505.2L646.0 475.0L646.5 475.0L647.0 497.5L647.5 505.5L648.0 506.2L648.5 509.7L649.0 509.7L649.5 509.7L650.0 510.0L650.5 510.0L651.0 510.0L651.5 509.5L652.0 502.0L652.5 507.0L653.0 506.8L653.5 506.0L654.0 500.1L654.5 477.6L655.0 477.6L655.5 505.7L656.0 506.5L656.5 510.4L657.0 514.1L657.5 513.8L658.0 513.6L658.5 513.8L659.0 510.9L659.5 510.1L660.0 510.1L660.5 510.1L661.0 512.5L661.5 514.1L662.0 510.2L662.5 509.4L663.0 494.4L663.5 494.4L664.0 509.0L664.5 509.7L665.0 510.1L665.5 510.1L666.0 512.0L666.5 511.4L667.0 511.6L667.5 508.0L668.0 507.3L668.5 504.2L669.0 504.2L669.5 504.2L670.0 504.2L670.5 504.2L671.0 506.1L671.5 509.0L672.0 505.1L672.5 504.4L673.0 471.4L673.5 471.4L674.0 493.9L674.5 504.7L675.0 505.4L675.5 511.6L676.0 512.5L676.5 512.5L677.0 511.8L677.5 510.9L678.0 511.1L678.5 511.8L679.0 512.5L679.5 511.9L680.0 507.5L680.5 503.0L681.0 502.3L681.5 461.6L682.0 461.6L682.5 461.6L683.0 461.6L683.5 491.6L684.0 499.0L684.5 499.0L685.0 510.0L685.5 510.7L686.0 511.5L686.5 512.5L687.0 512.6L687.5 512.6L688.0 513.0L688.5 513.0L689.0 512.4L689.5 511.6L690.0 510.9L690.5 503.0L691.0 503.0L691.5 511.3L692.0 511.8L692.5 512.0L693.0 511.9L693.5 511.0L694.0 510.3L694.5 505.1L695.0 497.6L695.5 505.1L696.0 510.3L696.5 508.8L697.0 507.8L697.5 507.8L698.0 507.8L698.5 508.7L699.0 511.4L699.5 510.6L700.0 504.2L700.5 503.5L701.0 488.5L701.5 466.0L702.0 466.0L702.5 503.2L703.0 503.9L703.5 500.0L704.0 500.0L704.5 510.7L705.0 510.4L705.5 509.6L706.0 508.9L706.5 494.0L707.0 494.0L707.5 509.3L708.0 510.1L708.5 509.4L709.0 508.7L709.5 497.9L710.0 490.4L710.5 497.9L711.0 507.1L711.5 507.1L712.0 506.7L712.5 506.7L713.0 503.0L713.5 503.0L714.0 506.7L714.5 507.3L715.0 512.4L715.5 513.6L716.0 514.5L716.5 513.8L717.0 513.3L717.5 508.1L718.0 507.4L718.5 491.9L719.0 484.4L719.5 491.9L720.0 507.4L720.5 508.1L721.0 509.9L721.5 509.9L722.0 509.9L722.5 509.9L723.0 509.9L723.5 510.2L724.0 510.4L724.5 510.4L725.0 504.0L725.5 508.2L726.0 504.4L726.5 503.6L727.0 468.0L727.5 468.0L728.0 490.5L728.5 503.9L729.0 504.7L729.5 510.1L730.0 510.1L730.5 510.1L731.0 504.6L731.5 511.1L732.0 511.8L732.5 512.0L733.0 511.3L733.5 512.1L734.0 512.6L734.5 513.1L735.0 514.6L735.5 509.8L736.0 509.0L736.5 499.5L737.0 492.0L737.5 499.5L738.0 509.0L738.5 509.8L739.0 511.4L739.5 511.4L740.0 511.4L740.5 511.4L741.0 507.0L741.5 511.2L742.0 511.2L742.5 511.2L743.0 511.2L743.5 509.1L744.0 509.1L744.5 509.1L745.0 509.0L745.5 505.6L746.0 505.6L746.5 484.5L747.0 477.0L747.5 484.5L748.0 505.6L748.5 506.5L749.0 511.5L749.5 512.6L750.0 511.8L750.5 511.1L751.0 504.6L751.5 511.1L752.0 511.4L752.5 512.3L753.0 511.5L753.5 510.8L754.0 500.6L754.5 500.6L755.0 510.3L755.5 511.1L756.0 511.8L756.5 512.2L757.0 511.5L757.5 510.8L758.0 500.6L758.5 500.6L759.0 510.3L759.5 510.0L760.0 510.0L760.5 510.0L761.0 510.0L761.5 511.7L762.0 512.4L762.5 513.0L763.0 509.1L763.5 508.3L764.0 489.4L764.5 489.4L765.0 507.9L765.5 508.6L766.0 509.4L766.5 512.6L767.0 510.8L767.5 510.8L768.0 510.8L768.5 510.8L769.0 506.6L769.5 511.5L770.0 512.3L770.5 511.6L771.0 510.0L771.5 510.0L772.0 510.0L772.5 511.5L773.0 512.7L773.5 512.0L774.0 506.0L774.5 506.0L775.0 511.4L775.5 511.4L776.0 511.4L776.5 512.9L777.0 512.9L777.5 512.4L778.0 511.7L778.5 511.6L779.0 508.5L779.5 507.8L780.0 487.0L780.5 487.0L781.0 507.3L781.5 508.1L782.0 508.8L782.5 512.2L783.0 512.3L783.5 512.7L784.0 514.0L784.5 514.5L785.0 514.5L785.5 513.1L786.0 512.3L786.5 511.3L787.0 507.0L787.5 511.3L788.0 511.3L788.5 511.3L789.0 511.3L789.5 511.3L790.0 510.3L790.5 505.2L791.0 504.4L791.5 478.5L792.0 471.0L792.5 478.5L793.0 504.4L793.5 505.2L794.0 509.6L794.5 509.6L795.0 509.6L795.5 509.6L796.0 511.0L796.5 512.5L797.0 512.9L797.5 512.6L798.0 509.1L798.5 506.8L799.0 500.4L799.5 495.9L800.0 495.1L800.5 444.4L801.0 444.4L801.5 444.4L802.0 444.4L802.5 474.4L803.0 495.4L803.5 496.2L804.0 503.2L804.5 510.2L805.0 514.2L805.5 512.8L806.0 512.0L806.5 511.9L807.0 512.1L807.5 506.7L808.0 502.8L808.5 502.1L809.0 461.0L809.5 461.0L810.0 483.5L810.5 502.4L811.0 481.0L811.5 481.0L812.0 503.5L812.5 506.8L813.0 507.5L813.5 509.0L814.0 509.0L814.5 509.0L815.0 509.0L815.5 510.7L816.0 513.0L816.5 512.7L817.0 512.6L817.5 512.2L818.0 512.0L818.5 506.9L819.0 506.1L819.5 486.1L820.0 478.6L820.5 486.1L821.0 506.1L821.5 506.9L822.0 509.1L822.5 510.1L823.0 513.3L823.5 513.2L824.0 514.2L824.5 514.3L825.0 512.9L825.5 509.4L826.0 508.2L826.5 508.2L827.0 508.2L827.5 508.2L828.0 507.0L828.5 511.6L829.0 512.3L829.5 513.1L830.0 512.7L830.5 512.7L831.0 512.7L831.5 512.7L832.0 512.7L832.5 512.4L833.0 511.3L833.5 510.2L834.0 510.8L834.5 510.1L835.0 509.3L835.5 496.0L836.0 496.0L836.5 506.6L837.0 481.4L837.5 481.4L838.0 503.9L838.5 506.9L839.0 507.6L839.5 510.7L840.0 507.2L840.5 505.3L841.0 505.3L841.5 505.3L842.0 505.3L842.5 505.3L843.0 505.3L843.5 507.9L844.0 510.5L844.5 510.4L845.0 506.6L845.5 505.8L846.0 478.0L846.5 478.0L847.0 500.5L847.5 506.1L848.0 506.9L848.5 512.9L849.0 513.0L849.5 513.0L850.0 512.1L850.5 511.2L851.0 511.1L851.5 511.9L852.0 512.7L852.5 513.3L853.0 514.1L853.5 512.9L854.0 509.0L854.5 508.2L855.0 489.0L855.5 489.0L856.0 507.8L856.5 508.5L857.0 509.3L857.5 512.0L858.0 511.9L858.5 511.2L859.0 505.0L859.5 511.2L860.0 511.9L860.5 512.6L861.0 512.6L861.5 512.4L862.0 512.6L862.5 512.4L863.0 508.5L863.5 507.8L864.0 487.0L864.5 487.0L865.0 507.3L865.5 508.1L866.0 508.8L866.5 512.2L867.0 513.0L867.5 513.6L868.0 512.1L868.5 512.1L869.0 512.1L869.5 512.1L870.0 512.1L870.5 512.7L871.0 514.2L871.5 512.0L872.0 508.7L872.5 508.0L873.0 507.2L873.5 486.4L874.0 486.4L874.5 507.7L875.0 508.4L875.5 510.9L876.0 510.1L876.5 509.3L877.0 494.0L877.5 494.0L878.0 508.9L878.5 509.6L879.0 510.4L879.5 512.7L880.0 512.4L880.5 505.8L881.0 501.9L881.5 501.2L882.0 457.0L882.5 457.0L883.0 479.5L883.5 491.5L884.0 484.0L884.5 491.5L885.0 505.8L885.5 508.0L886.0 513.2L886.5 513.1L887.0 513.2L887.5 513.9L888.0 510.0L888.5 506.5L889.0 503.8L889.5 494.4L890.0 494.4L890.5 503.8L891.0 503.8L891.5 505.0L892.0 504.0L892.5 504.2L893.0 504.2L893.5 504.2L894.0 504.2L894.5 504.2L895.0 506.4L895.5 509.9L896.0 510.8L896.5 511.9L897.0 511.5L897.5 511.7L898.0 510.9L898.5 508.1L899.0 500.6L899.5 508.1L900.0 510.9L900.0 556.6L899.5 558.6L899.0 558.6L898.5 558.6L898.0 558.6L897.5 558.6L897.0 558.6L896.5 558.2L896.0 558.0L895.5 557.9L895.0 558.7L894.5 560.0L894.0 560.0L893.5 560.0L893.0 558.4L892.5 559.3L892.0 561.2L891.5 561.2L891.0 561.2L890.5 561.2L890.0 561.2L889.5 561.2L889.0 560.4L888.5 557.2L888.0 557.2L887.5 556.9L887.0 557.8L886.5 557.9L886.0 557.8L885.5 558.8L885.0 558.8L884.5 558.8L884.0 558.8L883.5 558.9L883.0 559.4L882.5 561.0L882.0 561.0L881.5 561.0L881.0 559.4L880.5 558.9L880.0 557.9L879.5 558.2L879.0 557.8L878.5 557.6L878.0 557.9L877.5 558.1L877.0 558.3L876.5 558.3L876.0 558.0L875.5 557.2L875.0 557.7L874.5 558.1L874.0 557.9L873.5 558.9L873.0 559.4L872.5 561.0L872.0 561.0L871.5 561.0L871.0 559.4L870.5 558.9L870.0 558.1L869.5 557.9L869.0 557.9L868.5 557.2L868.0 557.6L867.5 557.9L867.0 558.2L866.5 558.5L866.0 557.9L865.5 557.7L865.0 558.4L864.5 559.4L864.0 559.9L863.5 562.0L863.0 562.0L862.5 562.0L862.0 559.9L861.5 559.4L861.0 558.4L860.5 558.5L860.0 558.2L859.5 558.2L859.0 557.6L858.5 557.5L858.0 560.0L857.5 560.9L857.0 561.4L856.5 565.0L856.0 565.0L855.5 565.0L855.0 561.4L854.5 561.4L854.0 561.4L853.5 561.4L853.0 561.4L852.5 559.6L852.0 560.2L851.5 560.2L851.0 560.2L850.5 560.2L850.0 558.5L849.5 559.4L849.0 559.9L848.5 562.0L848.0 562.0L847.5 562.0L847.0 559.9L846.5 559.4L846.0 558.4L845.5 558.2L845.0 558.2L844.5 558.2L844.0 558.2L843.5 558.9L843.0 558.9L842.5 559.3L842.0 559.3L841.5 559.3L841.0 559.3L840.5 559.5L840.0 560.0L839.5 563.0L839.0 563.0L838.5 563.0L838.0 563.0L837.5 560.2L837.0 559.8L836.5 558.4L836.0 557.8L835.5 557.9L835.0 558.3L834.5 558.3L834.0 558.0L833.5 557.7L833.0 557.3L832.5 557.4L832.0 558.1L831.5 559.0L831.0 559.5L830.5 561.4L830.0 561.4L829.5 561.4L829.0 559.6L828.5 559.6L828.0 558.2L827.5 558.0L827.0 557.6L826.5 558.2L826.0 557.5L825.5 560.8L825.0 562.5L824.5 562.5L824.0 562.5L823.5 562.5L823.0 562.5L822.5 562.5L822.0 560.5L821.5 557.3L821.0 557.3L820.5 557.3L820.0 557.0L819.5 557.3L819.0 557.9L818.5 557.7L818.0 558.0L817.5 558.2L817.0 558.2L816.5 558.5L816.0 559.0L815.5 558.5L815.0 558.0L814.5 558.0L814.0 558.0L813.5 560.5L813.0 561.0L812.5 565.0L812.0 565.0L811.5 565.0L811.0 565.0L810.5 561.2L810.0 560.8L809.5 559.4L809.0 557.9L808.5 557.7L808.0 557.2L807.5 557.3L807.0 557.6L806.5 557.6L806.0 557.7L805.5 558.3L805.0 558.2L804.5 558.3L804.0 558.6L803.5 558.0L803.0 558.2L802.5 558.0L802.0 557.8L801.5 558.0L801.0 557.9L800.5 558.2L800.0 558.2L799.5 558.2L799.0 558.0L798.5 559.8L798.0 559.8L797.5 559.8L797.0 559.8L796.5 558.4L796.0 557.3L795.5 557.7L795.0 557.6L794.5 558.3L794.0 559.2L793.5 559.8L793.0 562.0L792.5 562.0L792.0 562.0L791.5 562.0L791.0 559.5L790.5 559.0L790.0 556.9L789.5 557.1L789.0 557.5L788.5 557.7L788.0 560.3L787.5 560.3L787.0 560.3L786.5 560.3L786.0 560.5L785.5 564.0L785.0 564.0L784.5 564.0L784.0 564.0L783.5 560.8L783.0 560.2L782.5 559.3L782.0 558.2L781.5 557.8L781.0 557.7L780.5 557.8L780.0 560.0L779.5 561.9L779.0 561.9L778.5 561.9L778.0 561.9L777.5 558.9L777.0 558.5L776.5 558.5L776.0 557.6L775.5 558.2L775.0 558.5L774.5 558.0L774.0 558.8L773.5 559.6L773.0 560.1L772.5 562.6L772.0 562.6L771.5 562.6L771.0 560.1L770.5 559.6L770.0 558.9L769.5 558.2L769.0 558.3L768.5 558.3L768.0 558.3L767.5 558.4L767.0 558.5L766.5 558.4L766.0 557.8L765.5 559.4L765.0 559.6L764.5 559.6L764.0 559.6L763.5 559.5L763.0 559.5L762.5 559.5L762.0 559.5L761.5 559.5L761.0 559.0L760.5 557.9L760.0 557.8L759.5 557.8L759.0 557.3L758.5 557.3L758.0 557.7L757.5 559.4L757.0 559.9L756.5 559.9L756.0 559.9L755.5 559.9L755.0 559.7L754.5 558.3L754.0 559.9L753.5 559.9L753.0 562.0L752.5 562.0L752.0 562.0L751.5 562.0L751.0 559.5L750.5 559.0L750.0 558.0L749.5 558.1L749.0 559.6L748.5 559.6L748.0 559.6L747.5 559.6L747.0 559.6L746.5 559.3L746.0 559.3L745.5 559.3L745.0 559.4L744.5 561.0L744.0 561.0L743.5 561.0L743.0 560.0L742.5 560.0L742.0 558.0L741.5 558.2L741.0 557.8L740.5 558.0L740.0 558.6L739.5 558.1L739.0 557.7L738.5 557.8L738.0 557.9L737.5 558.7L737.0 559.5L736.5 559.5L736.0 559.0L735.5 558.0L735.0 556.7L734.5 557.3L734.0 558.0L733.5 561.5L733.0 561.6L732.5 561.6L732.0 561.6L731.5 558.5L731.0 557.6L730.5 559.4L730.0 560.8L729.5 561.2L729.0 565.0L728.5 565.0L728.0 565.0L727.5 565.0L727.0 561.0L726.5 560.5L726.0 558.3L725.5 558.3L725.0 558.3L724.5 558.3L724.0 560.0L723.5 560.0L723.0 560.0L722.5 560.8L722.0 560.8L721.5 560.8L721.0 560.8L720.5 560.8L720.0 560.9L719.5 564.0L719.0 564.0L718.5 564.0L718.0 560.9L717.5 560.4L717.0 559.5L716.5 558.4L716.0 559.1L715.5 560.0L715.0 560.0L714.5 560.0L714.0 559.3L713.5 558.9L713.0 559.4L712.5 558.5L712.0 557.6L711.5 557.0L711.0 557.1L710.5 557.9L710.0 558.6L709.5 558.6L709.0 558.6L708.5 558.6L708.0 558.6L707.5 557.9L707.0 557.7L706.5 557.4L706.0 557.1L705.5 557.2L705.0 556.8L704.5 557.4L704.0 558.0L703.5 558.1L703.0 558.6L702.5 558.0L702.0 557.5L701.5 557.5L701.0 557.1L700.5 557.1L700.0 557.2L699.5 557.4L699.0 557.9L698.5 557.8L698.0 558.0L697.5 557.5L697.0 557.5L696.5 557.3L696.0 557.0L695.5 558.2L695.0 558.2L694.5 558.2L694.0 558.3L693.5 558.9L693.0 559.4L692.5 561.0L692.0 561.0L691.5 561.0L691.0 559.4L690.5 558.9L690.0 557.9L689.5 557.2L689.0 556.6L688.5 556.9L688.0 560.4L687.5 560.4L687.0 560.4L686.5 560.4L686.0 560.4L685.5 560.4L685.0 559.3L684.5 559.3L684.0 559.3L683.5 559.3L683.0 558.2L682.5 558.1L682.0 558.0L681.5 557.9L681.0 557.3L680.5 557.3L680.0 557.4L679.5 557.7L679.0 557.8L678.5 557.7L678.0 558.0L677.5 558.1L677.0 558.8L676.5 558.3L676.0 558.2L675.5 560.0L675.0 560.5L674.5 564.0L674.0 564.0L673.5 564.0L673.0 564.0L672.5 560.8L672.0 560.2L671.5 558.9L671.0 557.7L670.5 557.7L670.0 557.7L669.5 557.4L669.0 557.6L668.5 557.2L668.0 557.7L667.5 557.2L667.0 556.7L666.5 557.1L666.0 556.8L665.5 556.7L665.0 556.7L664.5 557.1L664.0 558.8L663.5 560.3L663.0 560.3L662.5 560.3L662.0 560.3L661.5 560.3L661.0 560.3L660.5 558.8L660.0 558.6L659.5 558.0L659.0 558.0L658.5 558.1L658.0 557.6L657.5 557.6L657.0 557.7L656.5 559.0L656.0 559.0L655.5 559.0L655.0 559.0L654.5 559.0L654.0 559.0L653.5 558.9L653.0 558.8L652.5 559.2L652.0 562.0L651.5 562.0L651.0 562.0L650.5 562.0L650.0 562.0L649.5 562.0L649.0 560.5L648.5 560.5L648.0 559.7L647.5 561.4L647.0 562.1L646.5 562.1L646.0 562.1L645.5 562.1L645.0 562.1L644.5 562.1L644.0 560.2L643.5 558.2L643.0 557.6L642.5 557.2L642.0 557.9L641.5 558.9L641.0 559.4L640.5 561.0L640.0 561.0L639.5 561.0L639.0 559.4L638.5 558.9L638.0 557.9L637.5 557.4L637.0 559.1L636.5 561.7L636.0 561.7L635.5 561.7L635.0 561.7L634.5 561.7L634.0 561.7L633.5 558.4L633.0 558.3L632.5 558.3L632.0 558.3L631.5 558.3L631.0 558.3L630.5 558.3L630.0 557.7L629.5 558.0L629.0 557.7L628.5 558.2L628.0 557.6L627.5 558.4L627.0 559.8L626.5 560.2L626.0 563.0L625.5 563.0L625.0 563.0L624.5 563.0L624.0 560.0L623.5 559.5L623.0 559.0L622.5 557.9L622.0 557.8L621.5 557.8L621.0 558.2L620.5 558.5L620.0 558.5L619.5 558.5L619.0 558.5L618.5 558.5L618.0 558.5L617.5 557.5L617.0 557.9L616.5 558.0L616.0 557.9L615.5 558.2L615.0 557.8L614.5 558.4L614.0 558.4L613.5 560.6L613.0 561.9L612.5 561.9L612.0 561.9L611.5 561.9L611.0 559.1L610.5 559.0L610.0 559.1L609.5 558.8L609.0 558.9L608.5 558.0L608.0 558.4L607.5 559.4L607.0 559.9L606.5 562.0L606.0 562.0L605.5 562.0L605.0 559.9L604.5 559.4L604.0 558.9L603.5 559.2L603.0 558.8L602.5 558.3L602.0 557.8L601.5 557.9L601.0 558.4L600.5 559.4L600.0 559.9L599.5 562.0L599.0 562.0L598.5 562.0L598.0 559.9L597.5 559.4L597.0 558.8L596.5 558.8L596.0 558.8L595.5 558.4L595.0 557.5L594.5 557.0L594.0 557.5L593.5 557.4L593.0 557.8L592.5 558.6L592.0 559.0L591.5 561.3L591.0 561.5L590.5 561.5L590.0 561.5L589.5 561.5L589.0 561.5L588.5 560.6L588.0 558.7L587.5 557.9L587.0 558.6L586.5 558.6L586.0 558.6L585.5 558.6L585.0 558.6L584.5 558.3L584.0 557.8L583.5 557.3L583.0 557.1L582.5 557.1L582.0 557.5L581.5 557.7L581.0 557.8L580.5 558.3L580.0 557.7L579.5 557.5L579.0 557.4L578.5 557.4L578.0 557.4L577.5 557.9L577.0 558.2L576.5 558.0L576.0 562.7L575.5 562.7L575.0 562.7L574.5 562.7L574.0 562.7L573.5 563.0L573.0 563.0L572.5 563.0L572.0 560.4L571.5 559.9L571.0 560.3L570.5 560.5L570.0 560.5L569.5 560.5L569.0 560.5L568.5 560.5L568.0 559.8L567.5 559.1L567.0 559.1L566.5 559.9L566.0 560.4L565.5 563.0L565.0 563.0L564.5 563.0L564.0 560.4L563.5 559.9L563.0 559.0L562.5 557.0L562.0 556.7L561.5 557.1L561.0 557.0L560.5 557.8L560.0 558.2L559.5 558.4L559.0 558.8L558.5 558.5L558.0 558.8L557.5 559.6L557.0 560.1L556.5 562.6L556.0 562.6L555.5 562.6L555.0 560.5L554.5 560.5L554.0 560.5L553.5 560.5L553.0 560.5L552.5 560.5L552.0 557.9L551.5 557.4L551.0 558.0L550.5 557.9L550.0 557.8L549.5 557.7L549.0 558.0L548.5 558.7L548.0 558.7L547.5 558.7L547.0 559.2L546.5 559.8L546.0 562.0L545.5 562.0L545.0 562.0L544.5 562.2L544.0 562.2L543.5 562.2L543.0 562.2L542.5 562.2L542.0 559.3L541.5 558.3L541.0 557.8L540.5 557.0L540.0 557.1L539.5 557.6L539.0 557.7L538.5 558.7L538.0 558.6L537.5 557.4L537.0 557.4L536.5 556.8L536.0 558.7L535.5 558.7L535.0 558.7L534.5 558.7L534.0 558.7L533.5 558.7L533.0 558.0L532.5 557.7L532.0 557.5L531.5 557.3L531.0 557.7L530.5 558.3L530.0 558.3L529.5 558.3L529.0 558.3L528.5 559.5L528.0 560.0L527.5 563.0L527.0 563.0L526.5 563.0L526.0 563.0L525.5 560.2L525.0 559.8L524.5 558.4L524.0 559.4L523.5 559.4L523.0 559.4L522.5 559.4L522.0 558.6L521.5 558.3L521.0 558.3L520.5 558.2L520.0 558.6L519.5 558.6L519.0 558.6L518.5 559.4L518.0 559.9L517.5 562.0L517.0 562.0L516.5 562.0L516.0 559.9L515.5 559.4L515.0 558.4L514.5 557.8L514.0 557.5L513.5 557.4L513.0 557.6L512.5 559.2L512.0 559.2L511.5 559.2L511.0 559.5L510.5 560.4L510.0 560.9L509.5 564.0L509.0 564.0L508.5 564.0L508.0 560.9L507.5 560.4L507.0 559.5L506.5 557.7L506.0 560.4L505.5 560.4L505.0 560.4L504.5 559.7L504.0 558.1L503.5 557.6L503.0 557.4L502.5 557.9L502.0 558.4L501.5 559.1L501.0 559.1L500.5 559.1L500.0 559.1L499.5 557.2L499.0 557.2L498.5 557.5L498.0 557.5L497.5 557.5L497.0 557.5L496.5 557.5L496.0 558.2L495.5 558.8L495.0 558.7L494.5 558.4L494.0 558.8L493.5 558.7L493.0 558.6L492.5 560.0L492.0 560.0L491.5 560.0L491.0 558.4L490.5 557.9L490.0 557.9L489.5 557.9L489.0 557.9L488.5 557.9L488.0 557.9L487.5 557.9L487.0 557.2L486.5 556.9L486.0 557.4L485.5 557.2L485.0 557.8L484.5 558.3L484.0 557.3L483.5 558.3L483.0 558.3L482.5 558.5L482.0 559.0L481.5 560.6L481.0 560.6L480.5 560.9L480.0 562.1L479.5 562.1L479.0 562.1L478.5 562.1L478.0 562.1L477.5 562.1L477.0 559.8L476.5 559.8L476.0 559.7L475.5 559.7L475.0 559.5L474.5 557.7L474.0 557.9L473.5 559.9L473.0 561.8L472.5 561.8L472.0 561.8L471.5 561.8L471.0 560.9L470.5 559.5L470.0 559.5L469.5 559.5L469.0 557.6L468.5 558.5L468.0 558.5L467.5 558.5L467.0 558.5L466.5 558.3L466.0 558.1L465.5 557.9L465.0 557.9L464.5 558.9L464.0 559.4L463.5 561.0L463.0 561.0L462.5 561.0L462.0 559.4L461.5 558.9L461.0 558.2L460.5 557.6L460.0 557.6L459.5 557.9L459.0 557.9L458.5 558.1L458.0 558.1L457.5 558.1L457.0 558.1L456.5 557.5L456.0 557.3L455.5 556.5L455.0 556.3L454.5 556.7L454.0 557.0L453.5 557.4L453.0 557.7L452.5 557.2L452.0 557.6L451.5 558.0L451.0 557.8L450.5 558.5L450.0 558.4L449.5 558.0L449.0 558.1L448.5 558.2L448.0 558.2L447.5 558.2L447.0 558.2L446.5 558.5L446.0 560.1L445.5 560.1L445.0 560.1L444.5 561.6L444.0 561.6L443.5 561.6L443.0 559.6L442.5 559.1L442.0 558.2L441.5 558.3L441.0 558.2L440.5 558.5L440.0 558.0L439.5 557.5L439.0 558.0L438.5 558.2L438.0 558.7L437.5 558.6L437.0 559.6L436.5 559.6L436.0 559.9L435.5 562.0L435.0 562.0L434.5 562.0L434.0 559.9L433.5 559.4L433.0 560.3L432.5 560.3L432.0 560.3L431.5 560.3L431.0 560.3L430.5 559.8L430.0 559.8L429.5 559.8L429.0 559.8L428.5 558.5L428.0 558.5L427.5 558.6L427.0 559.0L426.5 559.5L426.0 561.6L425.5 561.6L425.0 561.6L424.5 561.6L424.0 559.9L423.5 559.9L423.0 559.9L422.5 559.9L422.0 558.3L421.5 558.2L421.0 558.2L420.5 558.1L420.0 557.6L419.5 558.2L419.0 558.9L418.5 559.4L418.0 561.4L417.5 561.4L417.0 561.4L416.5 561.4L416.0 559.1L415.5 558.6L415.0 557.5L414.5 557.4L414.0 557.4L413.5 557.4L413.0 557.5L412.5 558.0L412.0 560.0L411.5 560.9L411.0 561.4L410.5 565.0L410.0 565.0L409.5 565.0L409.0 561.4L408.5 560.9L408.0 560.0L407.5 558.5L407.0 558.7L406.5 558.5L406.0 558.6L405.5 558.6L405.0 558.6L404.5 558.1L404.0 558.5L403.5 558.3L403.0 558.3L402.5 558.7L402.0 558.7L401.5 558.7L401.0 558.7L400.5 558.8L400.0 558.7L399.5 558.3L399.0 558.8L398.5 558.8L398.0 558.2L397.5 558.3L397.0 557.8L396.5 557.2L396.0 557.7L395.5 557.7L395.0 557.8L394.5 558.4L394.0 557.9L393.5 558.1L393.0 558.9L392.5 558.9L392.0 558.9L391.5 558.9L391.0 558.9L390.5 558.9L390.0 558.4L389.5 558.3L389.0 558.3L388.5 558.3L388.0 558.3L387.5 558.0L387.0 558.1L386.5 558.1L386.0 557.7L385.5 557.5L385.0 557.6L384.5 557.5L384.0 560.5L383.5 561.5L383.0 561.5L382.5 563.6L382.0 563.6L381.5 563.6L381.0 563.6L380.5 560.5L380.0 560.0L379.5 559.2L379.0 560.7L378.5 560.7L378.0 560.7L377.5 560.7L377.0 560.7L376.5 560.7L376.0 560.0L375.5 558.0L375.0 557.9L374.5 557.9L374.0 557.9L373.5 557.9L373.0 557.5L372.5 557.8L372.0 558.6L371.5 559.5L371.0 560.0L370.5 562.4L370.0 562.4L369.5 562.4L369.0 560.0L368.5 559.5L368.0 558.6L367.5 557.8L367.0 557.8L366.5 558.5L366.0 559.0L365.5 560.6L365.0 560.6L364.5 560.6L364.0 559.0L363.5 558.5L363.0 557.8L362.5 557.8L362.0 557.8L361.5 557.9L361.0 557.8L360.5 557.5L360.0 557.5L359.5 558.4L359.0 558.4L358.5 558.4L358.0 558.4L357.5 558.5L357.0 558.4L356.5 558.2L356.0 558.3L355.5 557.7L355.0 557.1L354.5 557.3L354.0 557.1L353.5 557.3L353.0 557.4L352.5 557.6L352.0 557.7L351.5 558.0L351.0 558.3L350.5 557.6L350.0 557.7L349.5 558.9L349.0 558.9L348.5 558.9L348.0 558.9L347.5 558.9L347.0 558.4L346.5 560.0L346.0 560.1L345.5 560.1L345.0 560.1L344.5 560.1L344.0 560.1L343.5 558.7L343.0 558.0L342.5 557.4L342.0 557.3L341.5 557.1L341.0 557.4L340.5 557.6L340.0 557.4L339.5 557.6L339.0 557.9L338.5 557.7L338.0 558.8L337.5 559.0L337.0 559.5L336.5 561.4L336.0 561.4L335.5 561.4L335.0 559.5L334.5 559.0L334.0 559.1L333.5 559.1L333.0 559.1L332.5 559.1L332.0 559.1L331.5 558.3L331.0 558.2L330.5 558.4L330.0 558.4L329.5 558.4L329.0 558.4L328.5 560.0L328.0 560.0L327.5 560.0L327.0 560.0L326.5 560.2L326.0 562.0L325.5 562.0L325.0 562.0L324.5 562.0L324.0 562.0L323.5 559.6L323.0 557.6L322.5 557.6L322.0 557.6L321.5 557.3L321.0 557.2L320.5 557.0L320.0 556.7L319.5 557.3L319.0 558.4L318.5 559.4L318.0 559.9L317.5 562.0L317.0 562.0L316.5 562.0L316.0 559.9L315.5 559.4L315.0 558.4L314.5 557.1L314.0 556.8L313.5 557.6L313.0 558.2L312.5 558.7L312.0 558.3L311.5 557.9L311.0 558.0L310.5 558.9L310.0 558.9L309.5 559.6L309.0 560.1L308.5 562.6L308.0 562.6L307.5 562.6L307.0 560.1L306.5 559.6L306.0 558.8L305.5 558.7L305.0 558.7L304.5 558.1L304.0 558.1L303.5 558.1L303.0 558.3L302.5 558.9L302.0 559.4L301.5 561.0L301.0 561.0L300.5 561.0L300.0 559.4L299.5 558.9L299.0 557.9L298.5 557.5L298.0 557.7L297.5 557.9L297.0 557.8L296.5 557.9L296.0 557.6L295.5 557.7L295.0 557.6L294.5 557.8L294.0 558.0L293.5 558.5L293.0 559.0L292.5 560.6L292.0 560.6L291.5 560.6L291.0 559.0L290.5 558.5L290.0 558.2L289.5 558.2L289.0 558.2L288.5 558.2L288.0 558.3L287.5 558.7L287.0 558.2L286.5 557.9L286.0 557.7L285.5 557.6L285.0 557.6L284.5 557.6L284.0 557.6L283.5 557.5L283.0 559.9L282.5 559.9L282.0 559.9L281.5 559.9L281.0 559.9L280.5 562.4L280.0 562.4L279.5 562.4L279.0 562.4L278.5 559.9L278.0 559.4L277.5 558.1L277.0 557.8L276.5 557.6L276.0 557.2L275.5 558.1L275.0 557.9L274.5 558.2L274.0 558.4L273.5 558.0L273.0 559.8L272.5 563.0L272.0 563.0L271.5 563.0L271.0 563.0L270.5 563.0L270.0 562.5L269.5 559.0L269.0 557.3L268.5 557.0L268.0 557.3L267.5 557.6L267.0 557.3L266.5 557.6L266.0 558.0L265.5 558.1L265.0 558.1L264.5 557.6L264.0 558.4L263.5 558.9L263.0 560.6L262.5 560.6L262.0 560.6L261.5 560.6L261.0 558.6L260.5 558.1L260.0 558.4L259.5 559.4L259.0 559.4L258.5 559.9L258.0 559.9L257.5 559.9L257.0 559.9L256.5 559.9L256.0 559.9L255.5 559.2L255.0 559.9L254.5 559.9L254.0 559.9L253.5 561.0L253.0 561.0L252.5 561.0L252.0 559.4L251.5 558.9L251.0 557.9L250.5 558.4L250.0 558.7L249.5 558.7L249.0 558.7L248.5 557.4L248.0 557.9L247.5 558.9L247.0 559.4L246.5 561.0L246.0 561.0L245.5 561.0L245.0 559.4L244.5 558.9L244.0 558.9L243.5 558.9L243.0 558.9L242.5 559.1L242.0 558.9L241.5 559.0L241.0 559.0L240.5 559.0L240.0 559.0L239.5 558.3L239.0 558.6L238.5 558.6L238.0 557.9L237.5 557.8L237.0 559.1L236.5 559.1L236.0 559.1L235.5 559.1L235.0 559.8L234.5 560.2L234.0 563.0L233.5 563.0L233.0 563.0L232.5 563.0L232.0 559.9L231.5 559.4L231.0 557.7L230.5 557.7L230.0 557.8L229.5 558.0L229.0 558.0L228.5 558.0L228.0 560.1L227.5 561.7L227.0 561.7L226.5 561.7L226.0 561.7L225.5 561.2L225.0 560.3L224.5 560.3L224.0 560.3L223.5 560.3L223.0 560.3L222.5 560.3L222.0 559.5L221.5 557.5L221.0 557.4L220.5 556.9L220.0 557.9L219.5 558.5L219.0 558.7L218.5 558.4L218.0 557.7L217.5 557.2L217.0 557.4L216.5 558.2L216.0 558.4L215.5 558.7L215.0 558.5L214.5 557.7L214.0 557.6L213.5 557.6L213.0 557.5L212.5 557.2L212.0 556.5L211.5 556.2L211.0 556.2L210.5 556.2L210.0 557.2L209.5 557.5L209.0 558.8L208.5 559.2L208.0 561.0L207.5 561.0L207.0 561.0L206.5 561.0L206.0 558.9L205.5 558.4L205.0 559.8L204.5 560.5L204.0 560.5L203.5 560.5L203.0 560.5L202.5 560.5L202.0 560.5L201.5 562.0L201.0 562.0L200.5 562.0L200.0 562.0L199.5 559.8L199.0 559.2L198.5 559.2L198.0 559.2L197.5 559.2L197.0 557.8L196.5 557.3L196.0 557.4L195.5 557.7L195.0 558.6L194.5 558.6L194.0 558.6L193.5 558.6L193.0 558.6L192.5 559.0L192.0 559.5L191.5 561.4L191.0 561.4L190.5 561.4L190.0 559.5L189.5 559.0L189.0 558.1L188.5 557.3L188.0 557.1L187.5 557.9L187.0 557.8L186.5 558.1L186.0 560.1L185.5 561.1L185.0 561.1L184.5 561.1L184.0 559.4L183.5 559.9L183.0 560.4L182.5 563.0L182.0 563.0L181.5 563.0L181.0 560.4L180.5 559.9L180.0 559.0L179.5 557.7L179.0 557.3L178.5 557.2L178.0 557.8L177.5 558.0L177.0 558.9L176.5 558.9L176.0 558.9L175.5 558.9L175.0 558.9L174.5 558.9L174.0 558.5L173.5 558.3L173.0 558.7L172.5 559.1L172.0 559.6L171.5 562.5L171.0 563.3L170.5 563.3L170.0 563.3L169.5 560.5L169.0 558.8L168.5 559.8L168.0 559.8L167.5 559.8L167.0 559.8L166.5 559.8L166.0 559.8L165.5 557.7L165.0 557.1L164.5 557.2L164.0 557.7L163.5 558.3L163.0 558.6L162.5 558.5L162.0 558.5L161.5 558.3L161.0 557.3L160.5 556.9L160.0 557.0L159.5 558.2L159.0 558.2L158.5 558.2L158.0 558.2L157.5 559.1L157.0 559.4L156.5 559.9L156.0 560.4L155.5 563.0L155.0 563.0L154.5 563.0L154.0 560.5L153.5 560.5L153.0 560.5L152.5 560.5L152.0 559.4L151.5 561.2L151.0 561.2L150.5 561.2L150.0 561.2L149.5 561.2L149.0 558.7L148.5 558.4L148.0 558.3L147.5 557.0L147.0 557.5L146.5 557.7L146.0 557.6L145.5 557.7L145.0 557.7L144.5 557.7L144.0 557.7L143.5 558.9L143.0 559.4L142.5 562.0L142.0 562.0L141.5 562.0L141.0 562.0L140.5 559.8L140.0 559.2L139.5 558.0L139.0 558.4L138.5 558.4L138.0 558.4L137.5 558.4L137.0 558.4L136.5 558.4L136.0 560.2L135.5 562.0L135.0 562.0L134.5 563.0L134.0 563.0L133.5 563.0L133.0 560.4L132.5 559.9L132.0 559.0L131.5 558.8L131.0 559.2L130.5 558.5L130.0 558.4L129.5 557.6L129.0 557.0L128.5 557.3L128.0 559.5L127.5 560.4L127.0 560.9L126.5 564.0L126.0 564.0L125.5 564.0L125.0 560.9Z" fill="#1f77b4" stroke="#1f77b4" stroke-width="1.4" stroke-linejoin="round"/>
<rect x="125.5" y="439.5" width="775.0" height="132.0" fill="none" stroke="#000" stroke-width="1.1"/>
<path d="M125.5 571.5v5.2M171.5 571.5v5.2M262.5 571.5v5.2M353.5 571.5v5.2M444.5 571.5v5.2M535.5 571.5v5.2M626.5 571.5v5.2M718.5 571.5v5.2M809.5 571.5v5.2M900.5 571.5v5.2M125.5 461.5h-5.2M125.5 502.5h-5.2M125.5 543.5h-5.2" stroke="#000" stroke-width="1.1" fill="none"/>
<path d="M216.5 571.5v3.1M307.5 571.5v3.1M399.5 571.5v3.1M490.5 571.5v3.1M581.5 571.5v3.1M672.5 571.5v3.1M763.5 571.5v3.1M854.5 571.5v3.1" stroke="#000" stroke-width="0.85" fill="none"/>
<text x="170.69" y="591.90" font-size="14" text-anchor="middle" textLength="34.6" lengthAdjust="spacingAndGlyphs">2020</text>
<text x="261.86" y="591.90" font-size="14" text-anchor="middle" textLength="34.6" lengthAdjust="spacingAndGlyphs">2030</text>
<text x="353.04" y="591.90" font-size="14" text-anchor="middle" textLength="34.6" lengthAdjust="spacingAndGlyphs">2040</text>
<text x="444.22" y="591.90" font-size="14" text-anchor="middle" textLength="34.6" lengthAdjust="spacingAndGlyphs">2050</text>
<text x="535.39" y="591.90" font-size="14" text-anchor="middle" textLength="34.6" lengthAdjust="spacingAndGlyphs">2060</text>
<text x="626.57" y="591.90" font-size="14" text-anchor="middle" textLength="34.6" lengthAdjust="spacingAndGlyphs">2070</text>
<text x="717.75" y="591.90" font-size="14" text-anchor="middle" textLength="34.6" lengthAdjust="spacingAndGlyphs">2080</text>
<text x="808.92" y="591.90" font-size="14" text-anchor="middle" textLength="34.6" lengthAdjust="spacingAndGlyphs">2090</text>
<text x="115.10" y="466.50" font-size="14" text-anchor="end" textLength="17.1" lengthAdjust="spacingAndGlyphs">75</text>
<text x="115.10" y="507.50" font-size="14" text-anchor="end" textLength="17.1" lengthAdjust="spacingAndGlyphs">50</text>
<text x="115.10" y="548.50" font-size="14" text-anchor="end" textLength="17.1" lengthAdjust="spacingAndGlyphs">25</text>
<text x="88.20" y="506.25" font-size="14" text-anchor="middle" textLength="59.4" lengthAdjust="spacingAndGlyphs" transform="rotate(-90 88.20 506.25)">fieldmax</text>
<line x1="125.0" x2="900.0" y1="664.31" y2="664.31" stroke="#1f77b4" stroke-width="2.08"/>
<rect x="125.5" y="598.5" width="775.0" height="133.0" fill="none" stroke="#000" stroke-width="1.1"/>
<path d="M125.5 731.5v5.2M171.5 731.5v5.2M262.5 731.5v5.2M353.5 731.5v5.2M444.5 731.5v5.2M535.5 731.5v5.2M626.5 731.5v5.2M718.5 731.5v5.2M809.5 731.5v5.2M900.5 731.5v5.2M125.5 604.5h-5.2M125.5 664.5h-5.2M125.5 724.5h-5.2" stroke="#000" stroke-width="1.1" fill="none"/>
<path d="M216.5 731.5v3.1M307.5 731.5v3.1M399.5 731.5v3.1M490.5 731.5v3.1M581.5 731.5v3.1M672.5 731.5v3.1M763.5 731.5v3.1M854.5 731.5v3.1" stroke="#000" stroke-width="0.85" fill="none"/>
<text x="170.69" y="750.90" font-size="14" text-anchor="middle" textLength="34.6" lengthAdjust="spacingAndGlyphs">2020</text>
<text x="261.86" y="750.90" font-size="14" text-anchor="middle" textLength="34.6" lengthAdjust="spacingAndGlyphs">2030</text>
<text x="353.04" y="750.90" font-size="14" text-anchor="middle" textLength="34.6" lengthAdjust="spacingAndGlyphs">2040</text>
<text x="444.22" y="750.90" font-size="14" text-anchor="middle" textLength="34.6" lengthAdjust="spacingAndGlyphs">2050</text>
<text x="535.39" y="750.90" font-size="14" text-anchor="middle" textLength="34.6" lengthAdjust="spacingAndGlyphs">2060</text>
<text x="626.57" y="750.90" font-size="14" text-anchor="middle" textLength="34.6" lengthAdjust="spacingAndGlyphs">2070</text>
<text x="717.75" y="750.90" font-size="14" text-anchor="middle" textLength="34.6" lengthAdjust="spacingAndGlyphs">2080</text>
<text x="808.92" y="750.90" font-size="14" text-anchor="middle" textLength="34.6" lengthAdjust="spacingAndGlyphs">2090</text>
<text x="115.10" y="609.50" font-size="14" text-anchor="end" textLength="29.8" lengthAdjust="spacingAndGlyphs">0.05</text>
<text x="115.10" y="669.50" font-size="14" text-anchor="end" textLength="29.8" lengthAdjust="spacingAndGlyphs">0.00</text>
<text x="115.10" y="729.50" font-size="14" text-anchor="end" textLength="41.0" lengthAdjust="spacingAndGlyphs">−0.05</text>
<text x="64.00" y="666.80" font-size="14" text-anchor="middle" textLength="84.0" lengthAdjust="spacingAndGlyphs" transform="rotate(-90 64.00 666.80)">nummasked</text>
<line x1="125.0" x2="900.0" y1="823.62" y2="823.62" stroke="#1f77b4" stroke-width="2.08"/>
<rect x="125.5" y="757.5" width="775.0" height="133.0" fill="none" stroke="#000" stroke-width="1.1"/>
<path d="M125.5 890.5v5.2M171.5 890.5v5.2M262.5 890.5v5.2M353.5 890.5v5.2M444.5 890.5v5.2M535.5 890.5v5.2M626.5 890.5v5.2M718.5 890.5v5.2M809.5 890.5v5.2M900.5 890.5v5.2M125.5 763.5h-5.2M125.5 824.5h-5.2M125.5 884.5h-5.2" stroke="#000" stroke-width="1.1" fill="none"/>
<path d="M216.5 890.5v3.1M307.5 890.5v3.1M399.5 890.5v3.1M490.5 890.5v3.1M581.5 890.5v3.1M672.5 890.5v3.1M763.5 890.5v3.1M854.5 890.5v3.1" stroke="#000" stroke-width="0.85" fill="none"/>
<text x="170.69" y="911.00" font-size="14" text-anchor="middle" textLength="34.6" lengthAdjust="spacingAndGlyphs">2020</text>
<text x="261.86" y="911.00" font-size="14" text-anchor="middle" textLength="34.6" lengthAdjust="spacingAndGlyphs">2030</text>
<text x="353.04" y="911.00" font-size="14" text-anchor="middle" textLength="34.6" lengthAdjust="spacingAndGlyphs">2040</text>
<text x="444.22" y="911.00" font-size="14" text-anchor="middle" textLength="34.6" lengthAdjust="spacingAndGlyphs">2050</text>
<text x="535.39" y="911.00" font-size="14" text-anchor="middle" textLength="34.6" lengthAdjust="spacingAndGlyphs">2060</text>
<text x="626.57" y="911.00" font-size="14" text-anchor="middle" textLength="34.6" lengthAdjust="spacingAndGlyphs">2070</text>
<text x="717.75" y="911.00" font-size="14" text-anchor="middle" textLength="34.6" lengthAdjust="spacingAndGlyphs">2080</text>
<text x="808.92" y="911.00" font-size="14" text-anchor="middle" textLength="34.6" lengthAdjust="spacingAndGlyphs">2090</text>
<text x="115.10" y="768.50" font-size="14" text-anchor="end" textLength="29.8" lengthAdjust="spacingAndGlyphs">0.05</text>
<text x="115.10" y="829.50" font-size="14" text-anchor="end" textLength="29.8" lengthAdjust="spacingAndGlyphs">0.00</text>
<text x="115.10" y="889.50" font-size="14" text-anchor="end" textLength="41.0" lengthAdjust="spacingAndGlyphs">−0.05</text>
<text x="64.00" y="825.80" font-size="14" text-anchor="middle" textLength="55.3" lengthAdjust="spacingAndGlyphs" transform="rotate(-90 64.00 825.80)">numnan</text>
<text x="511.80" y="929.60" font-size="14" text-anchor="middle" textLength="64.0" lengthAdjust="spacingAndGlyphs">validtime</text>
</svg></body></html>
